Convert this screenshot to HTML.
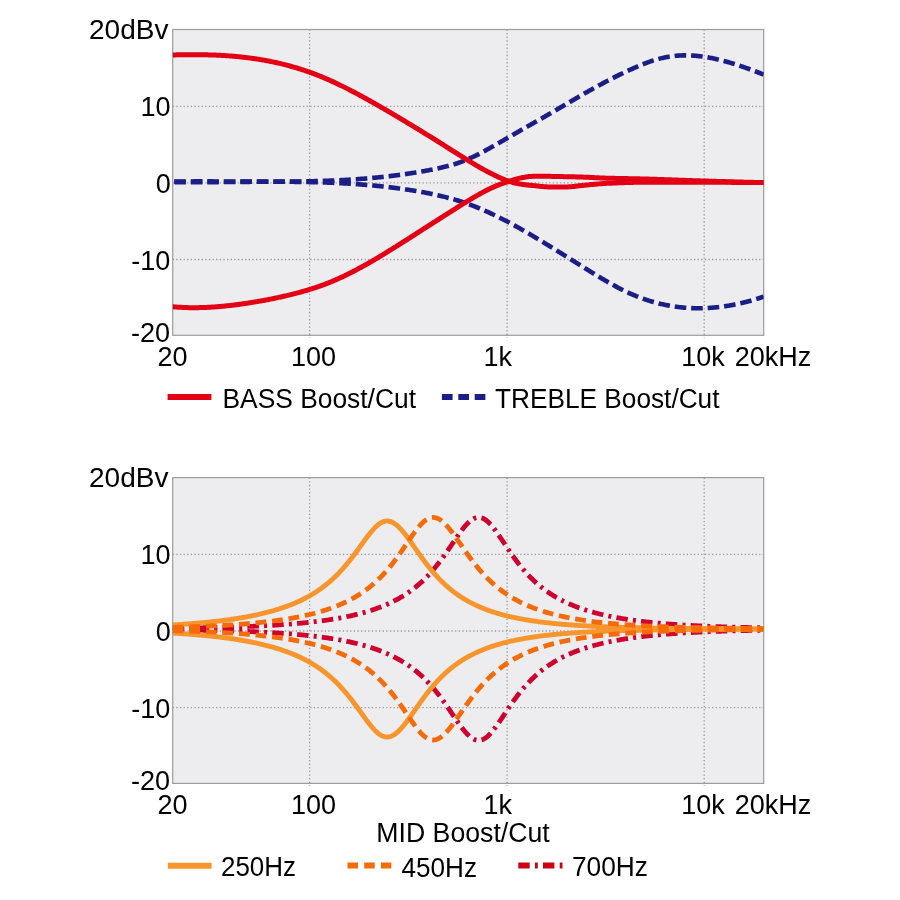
<!DOCTYPE html><html><head><meta charset="utf-8"><style>html,body{margin:0;padding:0;background:#fff;width:900px;height:900px;overflow:hidden}svg{display:block}text{font-family:"Liberation Sans",sans-serif;fill:#000}</style></head><body>
<svg width="900" height="900" viewBox="0 0 900 900" style="will-change:transform">
<rect width="900" height="900" fill="#fff"/>
<rect x="172.7" y="29.5" width="591.0" height="305.8" fill="#EDEDF0"/>
<line x1="172.7" y1="106.3" x2="763.7" y2="106.3" stroke="#9a9a9a" stroke-width="1.3" stroke-dasharray="1.3 2.32"/>
<line x1="172.7" y1="182.9" x2="763.7" y2="182.9" stroke="#9a9a9a" stroke-width="1.3" stroke-dasharray="1.3 2.32"/>
<line x1="172.7" y1="259.5" x2="763.7" y2="259.5" stroke="#9a9a9a" stroke-width="1.3" stroke-dasharray="1.3 2.32"/>
<line x1="309.6" y1="29.5" x2="309.6" y2="337.8" stroke="#9a9a9a" stroke-width="1.3" stroke-dasharray="1.3 2.32"/>
<line x1="507.1" y1="29.5" x2="507.1" y2="337.8" stroke="#9a9a9a" stroke-width="1.3" stroke-dasharray="1.3 2.32"/>
<line x1="704.2" y1="29.5" x2="704.2" y2="337.8" stroke="#9a9a9a" stroke-width="1.3" stroke-dasharray="1.3 2.32"/>
<rect x="172.7" y="29.5" width="591.0" height="305.8" fill="none" stroke="#9c9c9c" stroke-width="1.2"/>
<clipPath id="c1"><rect x="172.7" y="24.5" width="591.0" height="315.8"/></clipPath>
<g clip-path="url(#c1)" fill="none" stroke-linejoin="round">
<path d="M172.70 181.61L173.70 181.60L174.70 181.58L175.70 181.57L176.70 181.56L177.70 181.55L178.70 181.53L179.70 181.52L180.70 181.51L181.70 181.50L182.70 181.49L183.70 181.48L184.70 181.48L185.70 181.47L186.70 181.46L187.70 181.45L188.70 181.45L189.70 181.44L190.70 181.44L191.70 181.43L192.70 181.43L193.70 181.42L194.70 181.42L195.70 181.42L196.70 181.42L197.70 181.41L198.70 181.41L199.70 181.41L200.70 181.41L201.70 181.41L202.70 181.41L203.70 181.41L204.70 181.41L205.70 181.41L206.70 181.41L207.70 181.41L208.70 181.41L209.70 181.42L210.70 181.42L211.70 181.42L212.70 181.42L213.70 181.43L214.70 181.43L215.70 181.43L216.70 181.44L217.70 181.44L218.70 181.45L219.70 181.45L220.70 181.45L221.70 181.46L222.70 181.46L223.70 181.47L224.70 181.47L225.70 181.48L226.70 181.48L227.70 181.49L228.70 181.50L229.70 181.50L230.70 181.51L231.70 181.51L232.70 181.52L233.70 181.52L234.70 181.53L235.70 181.54L236.70 181.54L237.70 181.55L238.70 181.55L239.70 181.56L240.70 181.57L241.70 181.57L242.70 181.58L243.70 181.58L244.70 181.59L245.70 181.59L246.70 181.60L247.70 181.60L248.70 181.61L249.70 181.61L250.70 181.62L251.70 181.62L252.70 181.63L253.70 181.63L254.70 181.64L255.70 181.64L256.70 181.64L257.70 181.65L258.70 181.65L259.70 181.65L260.70 181.66L261.70 181.66L262.70 181.66L263.70 181.66L264.70 181.67L265.70 181.67L266.70 181.67L267.70 181.67L268.70 181.67L269.70 181.67L270.70 181.67L271.70 181.67L272.70 181.67L273.70 181.67L274.70 181.67L275.70 181.66L276.70 181.66L277.70 181.66L278.70 181.65L279.70 181.65L280.70 181.65L281.70 181.64L282.70 181.64L283.70 181.63L284.70 181.62L285.70 181.62L286.70 181.61L287.70 181.60L288.70 181.59L289.70 181.59L290.70 181.58L291.70 181.57L292.70 181.56L293.70 181.54L294.70 181.53L295.70 181.52L296.70 181.51L297.70 181.49L298.70 181.48L299.70 181.47L300.70 181.45L301.70 181.43L302.70 181.42L303.70 181.40L304.70 181.38L305.70 181.36L306.70 181.34L307.70 181.32L308.70 181.30L309.70 181.28L310.70 181.26L311.70 181.23L312.70 181.21L313.70 181.18L314.70 181.16L315.70 181.13L316.70 181.10L317.70 181.07L318.70 181.04L319.70 181.01L320.70 180.98L321.70 180.95L322.70 180.92L323.70 180.88L324.70 180.85L325.70 180.81L326.70 180.78L327.70 180.74L328.70 180.70L329.70 180.66L330.70 180.62L331.70 180.58L332.70 180.54L333.70 180.50L334.70 180.45L335.70 180.41L336.70 180.36L337.70 180.31L338.70 180.26L339.70 180.21L340.70 180.16L341.70 180.11L342.70 180.06L343.70 180.00L344.70 179.95L345.70 179.89L346.70 179.83L347.70 179.78L348.70 179.72L349.70 179.66L350.70 179.59L351.70 179.53L352.70 179.47L353.70 179.40L354.70 179.33L355.70 179.26L356.70 179.20L357.70 179.12L358.70 179.05L359.70 178.98L360.70 178.90L361.70 178.83L362.70 178.75L363.70 178.67L364.70 178.59L365.70 178.51L366.70 178.43L367.70 178.35L368.70 178.26L369.70 178.17L370.70 178.09L371.70 178.00L372.70 177.91L373.70 177.81L374.70 177.72L375.70 177.62L376.70 177.53L377.70 177.43L378.70 177.33L379.70 177.23L380.70 177.13L381.70 177.02L382.70 176.92L383.70 176.81L384.70 176.70L385.70 176.59L386.70 176.48L387.70 176.36L388.70 176.25L389.70 176.13L390.70 176.01L391.70 175.90L392.70 175.77L393.70 175.65L394.70 175.53L395.70 175.40L396.70 175.27L397.70 175.14L398.70 175.01L399.70 174.88L400.70 174.74L401.70 174.61L402.70 174.47L403.70 174.33L404.70 174.19L405.70 174.04L406.70 173.90L407.70 173.75L408.70 173.60L409.70 173.45L410.70 173.30L411.70 173.14L412.70 172.99L413.70 172.83L414.70 172.67L415.70 172.51L416.70 172.34L417.70 172.18L418.70 172.01L419.70 171.84L420.70 171.67L421.70 171.50L422.70 171.32L423.70 171.14L424.70 170.97L425.70 170.78L426.70 170.60L427.70 170.42L428.70 170.23L429.70 170.04L430.70 169.85L431.70 169.66L432.70 169.46L433.70 169.26L434.70 169.06L435.70 168.86L436.70 168.65L437.70 168.44L438.70 168.22L439.70 168.00L440.70 167.78L441.70 167.55L442.70 167.32L443.70 167.08L444.70 166.84L445.70 166.59L446.70 166.34L447.70 166.08L448.70 165.81L449.70 165.54L450.70 165.26L451.70 164.98L452.70 164.68L453.70 164.38L454.70 164.08L455.70 163.76L456.70 163.44L457.70 163.11L458.70 162.77L459.70 162.42L460.70 162.06L461.70 161.70L462.70 161.32L463.70 160.94L464.70 160.54L465.70 160.14L466.70 159.72L467.70 159.30L468.70 158.86L469.70 158.42L470.70 157.97L471.70 157.51L472.70 157.04L473.70 156.57L474.70 156.08L475.70 155.59L476.70 155.10L477.70 154.59L478.70 154.08L479.70 153.57L480.70 153.05L481.70 152.52L482.70 151.99L483.70 151.45L484.70 150.91L485.70 150.37L486.70 149.82L487.70 149.27L488.70 148.71L489.70 148.15L490.70 147.59L491.70 147.03L492.70 146.47L493.70 145.90L494.70 145.33L495.70 144.76L496.70 144.19L497.70 143.62L498.70 143.05L499.70 142.47L500.70 141.90L501.70 141.32L502.70 140.75L503.70 140.17L504.70 139.59L505.70 139.02L506.70 138.44L507.70 137.86L508.70 137.28L509.70 136.70L510.70 136.12L511.70 135.54L512.70 134.96L513.70 134.39L514.70 133.81L515.70 133.23L516.70 132.65L517.70 132.08L518.70 131.50L519.70 130.93L520.70 130.35L521.70 129.78L522.70 129.21L523.70 128.64L524.70 128.06L525.70 127.49L526.70 126.92L527.70 126.36L528.70 125.79L529.70 125.22L530.70 124.65L531.70 124.08L532.70 123.51L533.70 122.94L534.70 122.37L535.70 121.80L536.70 121.24L537.70 120.67L538.70 120.10L539.70 119.52L540.70 118.95L541.70 118.38L542.70 117.81L543.70 117.23L544.70 116.66L545.70 116.08L546.70 115.51L547.70 114.93L548.70 114.35L549.70 113.77L550.70 113.19L551.70 112.61L552.70 112.03L553.70 111.44L554.70 110.86L555.70 110.28L556.70 109.69L557.70 109.11L558.70 108.52L559.70 107.93L560.70 107.35L561.70 106.76L562.70 106.17L563.70 105.59L564.70 105.00L565.70 104.41L566.70 103.83L567.70 103.24L568.70 102.65L569.70 102.07L570.70 101.48L571.70 100.90L572.70 100.31L573.70 99.73L574.70 99.15L575.70 98.57L576.70 97.98L577.70 97.40L578.70 96.82L579.70 96.25L580.70 95.67L581.70 95.09L582.70 94.52L583.70 93.94L584.70 93.37L585.70 92.80L586.70 92.23L587.70 91.66L588.70 91.10L589.70 90.53L590.70 89.97L591.70 89.41L592.70 88.85L593.70 88.29L594.70 87.74L595.70 87.18L596.70 86.63L597.70 86.09L598.70 85.54L599.70 85.00L600.70 84.45L601.70 83.92L602.70 83.38L603.70 82.85L604.70 82.31L605.70 81.79L606.70 81.26L607.70 80.74L608.70 80.22L609.70 79.70L610.70 79.18L611.70 78.67L612.70 78.16L613.70 77.65L614.70 77.15L615.70 76.65L616.70 76.15L617.70 75.66L618.70 75.16L619.70 74.67L620.70 74.19L621.70 73.70L622.70 73.22L623.70 72.75L624.70 72.27L625.70 71.80L626.70 71.33L627.70 70.87L628.70 70.41L629.70 69.95L630.70 69.49L631.70 69.04L632.70 68.59L633.70 68.15L634.70 67.71L635.70 67.27L636.70 66.84L637.70 66.41L638.70 65.99L639.70 65.57L640.70 65.15L641.70 64.75L642.70 64.34L643.70 63.95L644.70 63.56L645.70 63.17L646.70 62.80L647.70 62.43L648.70 62.07L649.70 61.71L650.70 61.36L651.70 61.02L652.70 60.69L653.70 60.37L654.70 60.06L655.70 59.75L656.70 59.46L657.70 59.17L658.70 58.90L659.70 58.63L660.70 58.37L661.70 58.13L662.70 57.89L663.70 57.67L664.70 57.46L665.70 57.26L666.70 57.07L667.70 56.89L668.70 56.72L669.70 56.56L670.70 56.41L671.70 56.27L672.70 56.14L673.70 56.03L674.70 55.92L675.70 55.82L676.70 55.73L677.70 55.66L678.70 55.59L679.70 55.53L680.70 55.48L681.70 55.44L682.70 55.41L683.70 55.39L684.70 55.37L685.70 55.37L686.70 55.38L687.70 55.39L688.70 55.41L689.70 55.44L690.70 55.48L691.70 55.53L692.70 55.59L693.70 55.65L694.70 55.72L695.70 55.81L696.70 55.89L697.70 55.99L698.70 56.09L699.70 56.21L700.70 56.32L701.70 56.45L702.70 56.58L703.70 56.72L704.70 56.87L705.70 57.03L706.70 57.19L707.70 57.36L708.70 57.53L709.70 57.71L710.70 57.90L711.70 58.10L712.70 58.30L713.70 58.50L714.70 58.72L715.70 58.94L716.70 59.16L717.70 59.39L718.70 59.63L719.70 59.87L720.70 60.12L721.70 60.37L722.70 60.63L723.70 60.89L724.70 61.16L725.70 61.43L726.70 61.71L727.70 62.00L728.70 62.28L729.70 62.58L730.70 62.87L731.70 63.18L732.70 63.48L733.70 63.79L734.70 64.11L735.70 64.42L736.70 64.75L737.70 65.07L738.70 65.40L739.70 65.73L740.70 66.07L741.70 66.41L742.70 66.75L743.70 67.10L744.70 67.45L745.70 67.80L746.70 68.16L747.70 68.52L748.70 68.88L749.70 69.24L750.70 69.61L751.70 69.98L752.70 70.35L753.70 70.72L754.70 71.10L755.70 71.48L756.70 71.86L757.70 72.24L758.70 72.62L759.70 73.01L760.70 73.39L761.70 73.78L762.70 74.17L763.70 74.56" stroke="#1C1E87" stroke-width="4.6" stroke-dasharray="11.6 4.9" stroke-dashoffset="14.9"/>
<path d="M172.70 182.05L173.70 182.06L174.70 182.07L175.70 182.08L176.70 182.09L177.70 182.10L178.70 182.11L179.70 182.12L180.70 182.12L181.70 182.13L182.70 182.14L183.70 182.14L184.70 182.15L185.70 182.15L186.70 182.16L187.70 182.16L188.70 182.16L189.70 182.17L190.70 182.17L191.70 182.17L192.70 182.17L193.70 182.17L194.70 182.17L195.70 182.17L196.70 182.17L197.70 182.17L198.70 182.17L199.70 182.17L200.70 182.16L201.70 182.16L202.70 182.16L203.70 182.15L204.70 182.15L205.70 182.15L206.70 182.14L207.70 182.14L208.70 182.13L209.70 182.13L210.70 182.12L211.70 182.12L212.70 182.11L213.70 182.11L214.70 182.10L215.70 182.09L216.70 182.09L217.70 182.08L218.70 182.07L219.70 182.07L220.70 182.06L221.70 182.05L222.70 182.04L223.70 182.04L224.70 182.03L225.70 182.02L226.70 182.01L227.70 182.01L228.70 182.00L229.70 181.99L230.70 181.98L231.70 181.97L232.70 181.96L233.70 181.96L234.70 181.95L235.70 181.94L236.70 181.93L237.70 181.92L238.70 181.91L239.70 181.91L240.70 181.90L241.70 181.89L242.70 181.88L243.70 181.87L244.70 181.87L245.70 181.86L246.70 181.85L247.70 181.84L248.70 181.84L249.70 181.83L250.70 181.82L251.70 181.81L252.70 181.81L253.70 181.80L254.70 181.80L255.70 181.79L256.70 181.78L257.70 181.78L258.70 181.77L259.70 181.77L260.70 181.76L261.70 181.76L262.70 181.75L263.70 181.75L264.70 181.75L265.70 181.74L266.70 181.74L267.70 181.74L268.70 181.73L269.70 181.73L270.70 181.73L271.70 181.73L272.70 181.73L273.70 181.73L274.70 181.73L275.70 181.73L276.70 181.73L277.70 181.73L278.70 181.73L279.70 181.74L280.70 181.74L281.70 181.74L282.70 181.75L283.70 181.75L284.70 181.76L285.70 181.76L286.70 181.77L287.70 181.77L288.70 181.78L289.70 181.79L290.70 181.80L291.70 181.80L292.70 181.81L293.70 181.82L294.70 181.83L295.70 181.85L296.70 181.86L297.70 181.87L298.70 181.88L299.70 181.90L300.70 181.91L301.70 181.93L302.70 181.94L303.70 181.96L304.70 181.98L305.70 182.00L306.70 182.01L307.70 182.03L308.70 182.05L309.70 182.08L310.70 182.10L311.70 182.12L312.70 182.14L313.70 182.17L314.70 182.19L315.70 182.22L316.70 182.25L317.70 182.28L318.70 182.30L319.70 182.33L320.70 182.37L321.70 182.40L322.70 182.43L323.70 182.46L324.70 182.50L325.70 182.53L326.70 182.57L327.70 182.61L328.70 182.64L329.70 182.68L330.70 182.72L331.70 182.76L332.70 182.81L333.70 182.85L334.70 182.90L335.70 182.94L336.70 182.99L337.70 183.03L338.70 183.08L339.70 183.13L340.70 183.18L341.70 183.24L342.70 183.29L343.70 183.34L344.70 183.40L345.70 183.46L346.70 183.51L347.70 183.57L348.70 183.63L349.70 183.69L350.70 183.76L351.70 183.82L352.70 183.89L353.70 183.95L354.70 184.02L355.70 184.09L356.70 184.16L357.70 184.23L358.70 184.30L359.70 184.38L360.70 184.45L361.70 184.53L362.70 184.61L363.70 184.69L364.70 184.77L365.70 184.85L366.70 184.94L367.70 185.02L368.70 185.11L369.70 185.19L370.70 185.28L371.70 185.37L372.70 185.47L373.70 185.56L374.70 185.66L375.70 185.75L376.70 185.85L377.70 185.95L378.70 186.05L379.70 186.15L380.70 186.26L381.70 186.36L382.70 186.47L383.70 186.58L384.70 186.69L385.70 186.80L386.70 186.92L387.70 187.03L388.70 187.15L389.70 187.27L390.70 187.39L391.70 187.51L392.70 187.63L393.70 187.76L394.70 187.89L395.70 188.01L396.70 188.14L397.70 188.28L398.70 188.41L399.70 188.55L400.70 188.68L401.70 188.82L402.70 188.96L403.70 189.11L404.70 189.25L405.70 189.40L406.70 189.54L407.70 189.69L408.70 189.85L409.70 190.00L410.70 190.15L411.70 190.31L412.70 190.47L413.70 190.63L414.70 190.79L415.70 190.96L416.70 191.13L417.70 191.30L418.70 191.47L419.70 191.64L420.70 191.82L421.70 191.99L422.70 192.17L423.70 192.36L424.70 192.54L425.70 192.73L426.70 192.92L427.70 193.12L428.70 193.31L429.70 193.51L430.70 193.71L431.70 193.92L432.70 194.13L433.70 194.34L434.70 194.55L435.70 194.77L436.70 194.99L437.70 195.22L438.70 195.44L439.70 195.68L440.70 195.91L441.70 196.15L442.70 196.39L443.70 196.64L444.70 196.89L445.70 197.14L446.70 197.40L447.70 197.66L448.70 197.92L449.70 198.19L450.70 198.47L451.70 198.75L452.70 199.03L453.70 199.32L454.70 199.61L455.70 199.90L456.70 200.20L457.70 200.51L458.70 200.82L459.70 201.13L460.70 201.45L461.70 201.78L462.70 202.10L463.70 202.44L464.70 202.78L465.70 203.12L466.70 203.47L467.70 203.83L468.70 204.19L469.70 204.55L470.70 204.92L471.70 205.30L472.70 205.68L473.70 206.06L474.70 206.45L475.70 206.85L476.70 207.25L477.70 207.66L478.70 208.07L479.70 208.48L480.70 208.90L481.70 209.33L482.70 209.75L483.70 210.19L484.70 210.63L485.70 211.07L486.70 211.52L487.70 211.97L488.70 212.42L489.70 212.88L490.70 213.34L491.70 213.81L492.70 214.28L493.70 214.76L494.70 215.24L495.70 215.72L496.70 216.21L497.70 216.70L498.70 217.20L499.70 217.70L500.70 218.20L501.70 218.71L502.70 219.22L503.70 219.73L504.70 220.24L505.70 220.76L506.70 221.29L507.70 221.81L508.70 222.34L509.70 222.88L510.70 223.41L511.70 223.95L512.70 224.49L513.70 225.04L514.70 225.59L515.70 226.14L516.70 226.69L517.70 227.25L518.70 227.80L519.70 228.37L520.70 228.93L521.70 229.50L522.70 230.07L523.70 230.64L524.70 231.21L525.70 231.79L526.70 232.37L527.70 232.95L528.70 233.53L529.70 234.11L530.70 234.70L531.70 235.29L532.70 235.88L533.70 236.47L534.70 237.07L535.70 237.66L536.70 238.26L537.70 238.86L538.70 239.46L539.70 240.07L540.70 240.67L541.70 241.28L542.70 241.88L543.70 242.49L544.70 243.10L545.70 243.71L546.70 244.33L547.70 244.94L548.70 245.56L549.70 246.17L550.70 246.79L551.70 247.41L552.70 248.03L553.70 248.65L554.70 249.27L555.70 249.89L556.70 250.51L557.70 251.13L558.70 251.76L559.70 252.38L560.70 253.01L561.70 253.63L562.70 254.26L563.70 254.88L564.70 255.51L565.70 256.14L566.70 256.76L567.70 257.39L568.70 258.02L569.70 258.64L570.70 259.27L571.70 259.90L572.70 260.52L573.70 261.15L574.70 261.78L575.70 262.40L576.70 263.03L577.70 263.66L578.70 264.28L579.70 264.91L580.70 265.53L581.70 266.15L582.70 266.78L583.70 267.40L584.70 268.02L585.70 268.64L586.70 269.26L587.70 269.88L588.70 270.50L589.70 271.12L590.70 271.73L591.70 272.35L592.70 272.96L593.70 273.57L594.70 274.18L595.70 274.79L596.70 275.40L597.70 276.01L598.70 276.61L599.70 277.21L600.70 277.81L601.70 278.40L602.70 279.00L603.70 279.59L604.70 280.17L605.70 280.76L606.70 281.33L607.70 281.91L608.70 282.48L609.70 283.05L610.70 283.61L611.70 284.17L612.70 284.73L613.70 285.28L614.70 285.83L615.70 286.37L616.70 286.90L617.70 287.43L618.70 287.96L619.70 288.48L620.70 288.99L621.70 289.50L622.70 290.00L623.70 290.50L624.70 290.98L625.70 291.47L626.70 291.94L627.70 292.41L628.70 292.87L629.70 293.33L630.70 293.77L631.70 294.21L632.70 294.65L633.70 295.07L634.70 295.49L635.70 295.90L636.70 296.30L637.70 296.70L638.70 297.09L639.70 297.47L640.70 297.84L641.70 298.21L642.70 298.57L643.70 298.92L644.70 299.27L645.70 299.61L646.70 299.94L647.70 300.27L648.70 300.59L649.70 300.90L650.70 301.20L651.70 301.50L652.70 301.79L653.70 302.08L654.70 302.36L655.70 302.63L656.70 302.89L657.70 303.15L658.70 303.40L659.70 303.65L660.70 303.89L661.70 304.12L662.70 304.35L663.70 304.56L664.70 304.78L665.70 304.98L666.70 305.18L667.70 305.37L668.70 305.56L669.70 305.74L670.70 305.91L671.70 306.08L672.70 306.24L673.70 306.40L674.70 306.55L675.70 306.69L676.70 306.82L677.70 306.95L678.70 307.08L679.70 307.19L680.70 307.30L681.70 307.41L682.70 307.50L683.70 307.60L684.70 307.68L685.70 307.76L686.70 307.84L687.70 307.90L688.70 307.96L689.70 308.02L690.70 308.07L691.70 308.11L692.70 308.15L693.70 308.18L694.70 308.21L695.70 308.23L696.70 308.24L697.70 308.25L698.70 308.25L699.70 308.24L700.70 308.23L701.70 308.22L702.70 308.20L703.70 308.17L704.70 308.14L705.70 308.10L706.70 308.05L707.70 308.00L708.70 307.95L709.70 307.88L710.70 307.82L711.70 307.74L712.70 307.66L713.70 307.58L714.70 307.49L715.70 307.39L716.70 307.29L717.70 307.19L718.70 307.07L719.70 306.96L720.70 306.83L721.70 306.70L722.70 306.57L723.70 306.43L724.70 306.28L725.70 306.13L726.70 305.98L727.70 305.82L728.70 305.65L729.70 305.48L730.70 305.30L731.70 305.12L732.70 304.93L733.70 304.74L734.70 304.54L735.70 304.34L736.70 304.13L737.70 303.91L738.70 303.69L739.70 303.47L740.70 303.24L741.70 303.01L742.70 302.77L743.70 302.52L744.70 302.27L745.70 302.02L746.70 301.76L747.70 301.49L748.70 301.23L749.70 300.95L750.70 300.67L751.70 300.39L752.70 300.10L753.70 299.80L754.70 299.50L755.70 299.20L756.70 298.89L757.70 298.58L758.70 298.26L759.70 297.94L760.70 297.61L761.70 297.28L762.70 296.94L763.70 296.60" stroke="#1C1E87" stroke-width="4.6" stroke-dasharray="11.6 4.9" stroke-dashoffset="14.9"/>
<path d="M172.70 54.96L173.70 54.94L174.70 54.91L175.70 54.89L176.70 54.86L177.70 54.84L178.70 54.82L179.70 54.80L180.70 54.78L181.70 54.76L182.70 54.75L183.70 54.73L184.70 54.72L185.70 54.71L186.70 54.70L187.70 54.69L188.70 54.68L189.70 54.67L190.70 54.67L191.70 54.67L192.70 54.66L193.70 54.66L194.70 54.67L195.70 54.67L196.70 54.68L197.70 54.68L198.70 54.69L199.70 54.70L200.70 54.71L201.70 54.73L202.70 54.74L203.70 54.76L204.70 54.78L205.70 54.80L206.70 54.82L207.70 54.85L208.70 54.88L209.70 54.90L210.70 54.94L211.70 54.97L212.70 55.00L213.70 55.04L214.70 55.08L215.70 55.12L216.70 55.17L217.70 55.21L218.70 55.26L219.70 55.31L220.70 55.36L221.70 55.42L222.70 55.48L223.70 55.54L224.70 55.60L225.70 55.66L226.70 55.73L227.70 55.80L228.70 55.87L229.70 55.94L230.70 56.02L231.70 56.10L232.70 56.18L233.70 56.27L234.70 56.35L235.70 56.44L236.70 56.54L237.70 56.63L238.70 56.73L239.70 56.83L240.70 56.93L241.70 57.04L242.70 57.15L243.70 57.26L244.70 57.38L245.70 57.49L246.70 57.62L247.70 57.74L248.70 57.87L249.70 58.00L250.70 58.13L251.70 58.26L252.70 58.40L253.70 58.55L254.70 58.69L255.70 58.84L256.70 58.99L257.70 59.14L258.70 59.30L259.70 59.46L260.70 59.63L261.70 59.80L262.70 59.97L263.70 60.14L264.70 60.32L265.70 60.50L266.70 60.69L267.70 60.87L268.70 61.07L269.70 61.26L270.70 61.46L271.70 61.66L272.70 61.87L273.70 62.08L274.70 62.29L275.70 62.51L276.70 62.73L277.70 62.95L278.70 63.18L279.70 63.41L280.70 63.65L281.70 63.89L282.70 64.13L283.70 64.38L284.70 64.63L285.70 64.88L286.70 65.14L287.70 65.40L288.70 65.67L289.70 65.94L290.70 66.22L291.70 66.49L292.70 66.78L293.70 67.07L294.70 67.36L295.70 67.65L296.70 67.95L297.70 68.26L298.70 68.56L299.70 68.88L300.70 69.19L301.70 69.51L302.70 69.84L303.70 70.17L304.70 70.50L305.70 70.84L306.70 71.18L307.70 71.53L308.70 71.88L309.70 72.23L310.70 72.59L311.70 72.95L312.70 73.32L313.70 73.70L314.70 74.07L315.70 74.45L316.70 74.84L317.70 75.23L318.70 75.62L319.70 76.02L320.70 76.42L321.70 76.83L322.70 77.24L323.70 77.66L324.70 78.08L325.70 78.51L326.70 78.94L327.70 79.37L328.70 79.81L329.70 80.25L330.70 80.70L331.70 81.15L332.70 81.61L333.70 82.07L334.70 82.53L335.70 83.00L336.70 83.47L337.70 83.94L338.70 84.42L339.70 84.91L340.70 85.39L341.70 85.88L342.70 86.37L343.70 86.87L344.70 87.37L345.70 87.87L346.70 88.38L347.70 88.88L348.70 89.40L349.70 89.91L350.70 90.43L351.70 90.95L352.70 91.47L353.70 92.00L354.70 92.52L355.70 93.06L356.70 93.59L357.70 94.12L358.70 94.66L359.70 95.20L360.70 95.75L361.70 96.29L362.70 96.84L363.70 97.39L364.70 97.94L365.70 98.49L366.70 99.05L367.70 99.60L368.70 100.16L369.70 100.72L370.70 101.28L371.70 101.85L372.70 102.41L373.70 102.98L374.70 103.54L375.70 104.11L376.70 104.68L377.70 105.25L378.70 105.83L379.70 106.40L380.70 106.97L381.70 107.55L382.70 108.13L383.70 108.70L384.70 109.28L385.70 109.86L386.70 110.45L387.70 111.03L388.70 111.61L389.70 112.20L390.70 112.78L391.70 113.37L392.70 113.96L393.70 114.55L394.70 115.14L395.70 115.73L396.70 116.32L397.70 116.92L398.70 117.51L399.70 118.10L400.70 118.70L401.70 119.30L402.70 119.90L403.70 120.50L404.70 121.10L405.70 121.70L406.70 122.30L407.70 122.90L408.70 123.51L409.70 124.11L410.70 124.72L411.70 125.32L412.70 125.93L413.70 126.54L414.70 127.15L415.70 127.76L416.70 128.37L417.70 128.98L418.70 129.59L419.70 130.20L420.70 130.82L421.70 131.43L422.70 132.05L423.70 132.66L424.70 133.28L425.70 133.90L426.70 134.52L427.70 135.13L428.70 135.75L429.70 136.37L430.70 136.99L431.70 137.62L432.70 138.24L433.70 138.86L434.70 139.48L435.70 140.11L436.70 140.73L437.70 141.36L438.70 141.98L439.70 142.61L440.70 143.24L441.70 143.86L442.70 144.49L443.70 145.12L444.70 145.75L445.70 146.38L446.70 147.01L447.70 147.64L448.70 148.27L449.70 148.90L450.70 149.54L451.70 150.17L452.70 150.80L453.70 151.43L454.70 152.06L455.70 152.70L456.70 153.33L457.70 153.96L458.70 154.59L459.70 155.22L460.70 155.85L461.70 156.47L462.70 157.10L463.70 157.72L464.70 158.34L465.70 158.96L466.70 159.58L467.70 160.19L468.70 160.80L469.70 161.41L470.70 162.02L471.70 162.63L472.70 163.23L473.70 163.82L474.70 164.42L475.70 165.01L476.70 165.59L477.70 166.18L478.70 166.75L479.70 167.33L480.70 167.90L481.70 168.46L482.70 169.02L483.70 169.58L484.70 170.13L485.70 170.67L486.70 171.21L487.70 171.74L488.70 172.27L489.70 172.79L490.70 173.30L491.70 173.81L492.70 174.31L493.70 174.80L494.70 175.29L495.70 175.77L496.70 176.24L497.70 176.70L498.70 177.16L499.70 177.61L500.70 178.05L501.70 178.48L502.70 178.90L503.70 179.32L504.70 179.72L505.70 180.12L506.70 180.51L507.70 180.88L508.70 181.25L508.90 181.30L509.90 181.61L510.90 181.91L511.90 182.20L512.90 182.47L513.90 182.73L514.90 182.98L515.90 183.21L516.90 183.42L517.90 183.62L518.90 183.80L519.90 183.97L520.90 184.12L521.90 184.27L522.90 184.42L523.90 184.55L524.90 184.68L525.90 184.80L526.90 184.92L527.90 185.04L528.90 185.15L529.90 185.25L530.90 185.35L531.90 185.44L532.90 185.54L533.90 185.63L534.90 185.73L535.90 185.83L536.90 185.94L537.90 186.05L538.90 186.17L539.90 186.28L540.90 186.39L541.90 186.49L542.90 186.59L543.90 186.67L544.90 186.73L545.90 186.80L546.90 186.86L547.90 186.92L548.90 186.97L549.90 187.02L550.90 187.06L551.90 187.09L552.90 187.10L553.90 187.10L554.90 187.10L555.90 187.10L556.90 187.10L557.90 187.10L558.90 187.10L559.90 187.10L560.90 187.10L561.90 187.10L562.90 187.10L563.90 187.08L564.90 187.05L565.90 187.01L566.90 186.95L567.90 186.90L568.90 186.84L569.90 186.77L570.90 186.71L571.90 186.63L572.90 186.54L573.90 186.43L574.90 186.31L575.90 186.19L576.90 186.06L577.90 185.94L578.90 185.82L579.90 185.71L580.90 185.61L581.90 185.51L582.90 185.41L583.90 185.31L584.90 185.21L585.90 185.11L586.90 185.00L587.90 184.90L588.90 184.80L589.90 184.70L590.90 184.61L591.90 184.51L592.90 184.41L593.90 184.32L594.90 184.23L595.90 184.14L596.90 184.05L597.90 183.97L598.90 183.88L599.90 183.80L600.90 183.73L601.90 183.66L602.90 183.59L603.90 183.52L604.90 183.46L605.90 183.40L606.90 183.35L607.90 183.30L608.90 183.26L609.90 183.22L610.90 183.17L611.90 183.13L612.90 183.08L613.90 183.04L614.90 183.00L615.90 182.95L616.90 182.91L617.90 182.87L618.90 182.83L619.90 182.79L620.90 182.75L621.90 182.72L622.90 182.68L623.90 182.64L624.90 182.61L625.90 182.58L626.90 182.55L627.90 182.52L628.90 182.49L629.90 182.46L630.90 182.44L631.90 182.41L632.90 182.39L633.90 182.37L634.90 182.36L635.90 182.34L636.90 182.33L637.90 182.32L638.90 182.31L639.90 182.30L640.90 182.30L641.90 182.30L642.90 182.30L643.90 182.30L644.90 182.30L645.90 182.30L646.90 182.30L647.90 182.30L648.90 182.30L649.90 182.30L650.90 182.30L651.90 182.30L652.90 182.30L653.90 182.30L654.90 182.30L655.90 182.30L656.90 182.30L657.90 182.30L658.90 182.30L659.90 182.30L660.90 182.30L661.90 182.30L662.90 182.30L663.90 182.30L664.90 182.30L665.90 182.30L666.90 182.30L667.90 182.30L668.90 182.30L669.90 182.30L670.90 182.30L671.90 182.30L672.90 182.30L673.90 182.30L674.90 182.30L675.90 182.30L676.90 182.30L677.90 182.30L678.90 182.30L679.90 182.30L680.90 182.30L681.90 182.30L682.90 182.30L683.90 182.30L684.90 182.30L685.90 182.30L686.90 182.30L687.90 182.30L688.90 182.30L689.90 182.30L690.90 182.30L691.90 182.30L692.90 182.30L693.90 182.30L694.90 182.30L695.90 182.30L696.90 182.30L697.90 182.30L698.90 182.30L699.90 182.30L700.90 182.30L701.90 182.30L702.90 182.30L703.90 182.30L704.90 182.30L705.90 182.30L706.90 182.30L707.90 182.30L708.90 182.30L709.90 182.30L710.90 182.31L711.90 182.31L712.90 182.31L713.90 182.31L714.90 182.31L715.90 182.32L716.90 182.32L717.90 182.32L718.90 182.32L719.90 182.33L720.90 182.33L721.90 182.33L722.90 182.34L723.90 182.34L724.90 182.34L725.90 182.35L726.90 182.35L727.90 182.36L728.90 182.36L729.90 182.37L730.90 182.37L731.90 182.38L732.90 182.38L733.90 182.39L734.90 182.39L735.90 182.40L736.90 182.40L737.90 182.41L738.90 182.42L739.90 182.42L740.90 182.43L741.90 182.44L742.90 182.44L743.90 182.45L744.90 182.46L745.90 182.46L746.90 182.47L747.90 182.48L748.90 182.48L749.90 182.49L750.90 182.50L751.90 182.51L752.90 182.51L753.90 182.52L754.90 182.53L755.90 182.54L756.90 182.54L757.90 182.55L758.90 182.56L759.90 182.57L760.90 182.58L761.90 182.58L762.90 182.59L763.70 182.60" stroke="#E40014" stroke-width="5.0"/>
<path d="M172.70 306.73L173.70 306.82L174.70 306.91L175.70 306.99L176.70 307.06L177.70 307.14L178.70 307.20L179.70 307.26L180.70 307.32L181.70 307.37L182.70 307.42L183.70 307.47L184.70 307.51L185.70 307.54L186.70 307.58L187.70 307.60L188.70 307.63L189.70 307.65L190.70 307.66L191.70 307.67L192.70 307.68L193.70 307.68L194.70 307.68L195.70 307.68L196.70 307.67L197.70 307.66L198.70 307.64L199.70 307.62L200.70 307.60L201.70 307.57L202.70 307.54L203.70 307.51L204.70 307.47L205.70 307.43L206.70 307.39L207.70 307.34L208.70 307.29L209.70 307.23L210.70 307.18L211.70 307.12L212.70 307.05L213.70 306.98L214.70 306.91L215.70 306.84L216.70 306.76L217.70 306.69L218.70 306.60L219.70 306.52L220.70 306.43L221.70 306.34L222.70 306.25L223.70 306.15L224.70 306.05L225.70 305.95L226.70 305.84L227.70 305.74L228.70 305.63L229.70 305.52L230.70 305.40L231.70 305.28L232.70 305.16L233.70 305.04L234.70 304.92L235.70 304.79L236.70 304.66L237.70 304.53L238.70 304.40L239.70 304.26L240.70 304.13L241.70 303.99L242.70 303.85L243.70 303.70L244.70 303.56L245.70 303.41L246.70 303.26L247.70 303.11L248.70 302.96L249.70 302.80L250.70 302.64L251.70 302.49L252.70 302.33L253.70 302.16L254.70 302.00L255.70 301.83L256.70 301.66L257.70 301.49L258.70 301.32L259.70 301.14L260.70 300.97L261.70 300.79L262.70 300.61L263.70 300.42L264.70 300.24L265.70 300.05L266.70 299.86L267.70 299.67L268.70 299.47L269.70 299.28L270.70 299.08L271.70 298.88L272.70 298.68L273.70 298.47L274.70 298.26L275.70 298.05L276.70 297.84L277.70 297.63L278.70 297.41L279.70 297.19L280.70 296.97L281.70 296.75L282.70 296.52L283.70 296.29L284.70 296.06L285.70 295.83L286.70 295.59L287.70 295.36L288.70 295.12L289.70 294.87L290.70 294.63L291.70 294.38L292.70 294.13L293.70 293.88L294.70 293.62L295.70 293.37L296.70 293.11L297.70 292.84L298.70 292.58L299.70 292.31L300.70 292.04L301.70 291.76L302.70 291.49L303.70 291.20L304.70 290.92L305.70 290.63L306.70 290.34L307.70 290.04L308.70 289.74L309.70 289.44L310.70 289.13L311.70 288.82L312.70 288.51L313.70 288.18L314.70 287.86L315.70 287.53L316.70 287.20L317.70 286.86L318.70 286.51L319.70 286.16L320.70 285.81L321.70 285.45L322.70 285.09L323.70 284.72L324.70 284.34L325.70 283.96L326.70 283.57L327.70 283.18L328.70 282.78L329.70 282.38L330.70 281.97L331.70 281.55L332.70 281.14L333.70 280.71L334.70 280.28L335.70 279.85L336.70 279.41L337.70 278.96L338.70 278.51L339.70 278.06L340.70 277.60L341.70 277.13L342.70 276.66L343.70 276.19L344.70 275.71L345.70 275.23L346.70 274.74L347.70 274.25L348.70 273.75L349.70 273.25L350.70 272.75L351.70 272.24L352.70 271.73L353.70 271.21L354.70 270.69L355.70 270.17L356.70 269.64L357.70 269.11L358.70 268.57L359.70 268.04L360.70 267.49L361.70 266.95L362.70 266.40L363.70 265.85L364.70 265.29L365.70 264.73L366.70 264.17L367.70 263.60L368.70 263.03L369.70 262.46L370.70 261.89L371.70 261.31L372.70 260.73L373.70 260.15L374.70 259.56L375.70 258.97L376.70 258.38L377.70 257.79L378.70 257.19L379.70 256.59L380.70 255.99L381.70 255.39L382.70 254.78L383.70 254.18L384.70 253.57L385.70 252.96L386.70 252.34L387.70 251.73L388.70 251.11L389.70 250.49L390.70 249.87L391.70 249.25L392.70 248.63L393.70 248.00L394.70 247.37L395.70 246.75L396.70 246.12L397.70 245.49L398.70 244.85L399.70 244.22L400.70 243.59L401.70 242.95L402.70 242.32L403.70 241.68L404.70 241.04L405.70 240.40L406.70 239.77L407.70 239.13L408.70 238.49L409.70 237.84L410.70 237.20L411.70 236.56L412.70 235.92L413.70 235.28L414.70 234.64L415.70 233.99L416.70 233.35L417.70 232.71L418.70 232.07L419.70 231.42L420.70 230.78L421.70 230.14L422.70 229.50L423.70 228.86L424.70 228.22L425.70 227.58L426.70 226.94L427.70 226.30L428.70 225.66L429.70 225.02L430.70 224.39L431.70 223.75L432.70 223.11L433.70 222.47L434.70 221.84L435.70 221.20L436.70 220.57L437.70 219.93L438.70 219.29L439.70 218.66L440.70 218.02L441.70 217.39L442.70 216.75L443.70 216.12L444.70 215.48L445.70 214.85L446.70 214.21L447.70 213.58L448.70 212.94L449.70 212.31L450.70 211.67L451.70 211.04L452.70 210.40L453.70 209.77L454.70 209.13L455.70 208.50L456.70 207.87L457.70 207.23L458.70 206.60L459.70 205.98L460.70 205.35L461.70 204.72L462.70 204.10L463.70 203.48L464.70 202.86L465.70 202.25L466.70 201.63L467.70 201.03L468.70 200.42L469.70 199.82L470.70 199.22L471.70 198.62L472.70 198.03L473.70 197.45L474.70 196.86L475.70 196.29L476.70 195.71L477.70 195.15L478.70 194.58L479.70 194.03L480.70 193.48L481.70 192.93L482.70 192.39L483.70 191.86L484.70 191.33L485.70 190.82L486.70 190.30L487.70 189.80L488.70 189.31L489.70 188.82L490.70 188.34L491.70 187.87L492.70 187.41L493.70 186.96L494.70 186.52L495.70 186.09L496.70 185.66L497.70 185.25L498.70 184.85L499.70 184.46L500.70 184.09L501.70 183.72L502.70 183.37L503.70 183.02L504.70 182.69L505.70 182.38L506.70 182.07L507.70 181.78L508.70 181.51L508.90 181.30L509.90 180.97L510.90 180.64L511.90 180.33L512.90 180.03L513.90 179.74L514.90 179.46L515.90 179.19L516.90 178.93L517.90 178.67L518.90 178.42L519.90 178.18L520.90 177.94L521.90 177.72L522.90 177.52L523.90 177.34L524.90 177.17L525.90 177.01L526.90 176.87L527.90 176.72L528.90 176.58L529.90 176.46L530.90 176.40L531.90 176.39L532.90 176.37L533.90 176.36L534.90 176.35L535.90 176.34L536.90 176.33L537.90 176.32L538.90 176.31L539.90 176.31L540.90 176.31L541.90 176.30L542.90 176.30L543.90 176.30L544.90 176.30L545.90 176.30L546.90 176.31L547.90 176.32L548.90 176.33L549.90 176.35L550.90 176.36L551.90 176.38L552.90 176.40L553.90 176.42L554.90 176.44L555.90 176.46L556.90 176.49L557.90 176.51L558.90 176.53L559.90 176.55L560.90 176.57L561.90 176.59L562.90 176.61L563.90 176.63L564.90 176.65L565.90 176.67L566.90 176.69L567.90 176.71L568.90 176.73L569.90 176.75L570.90 176.77L571.90 176.80L572.90 176.82L573.90 176.84L574.90 176.87L575.90 176.89L576.90 176.92L577.90 176.94L578.90 176.97L579.90 177.00L580.90 177.03L581.90 177.06L582.90 177.10L583.90 177.13L584.90 177.17L585.90 177.22L586.90 177.26L587.90 177.30L588.90 177.35L589.90 177.40L590.90 177.45L591.90 177.50L592.90 177.55L593.90 177.60L594.90 177.65L595.90 177.70L596.90 177.75L597.90 177.79L598.90 177.84L599.90 177.89L600.90 177.93L601.90 177.98L602.90 178.02L603.90 178.06L604.90 178.10L605.90 178.13L606.90 178.17L607.90 178.20L608.90 178.22L609.90 178.25L610.90 178.28L611.90 178.30L612.90 178.33L613.90 178.35L614.90 178.37L615.90 178.39L616.90 178.41L617.90 178.43L618.90 178.45L619.90 178.47L620.90 178.49L621.90 178.51L622.90 178.53L623.90 178.54L624.90 178.56L625.90 178.58L626.90 178.60L627.90 178.62L628.90 178.63L629.90 178.65L630.90 178.67L631.90 178.69L632.90 178.71L633.90 178.73L634.90 178.75L635.90 178.77L636.90 178.79L637.90 178.81L638.90 178.83L639.90 178.86L640.90 178.88L641.90 178.91L642.90 178.93L643.90 178.96L644.90 178.99L645.90 179.01L646.90 179.04L647.90 179.07L648.90 179.10L649.90 179.13L650.90 179.17L651.90 179.20L652.90 179.23L653.90 179.26L654.90 179.30L655.90 179.33L656.90 179.37L657.90 179.40L658.90 179.43L659.90 179.47L660.90 179.50L661.90 179.54L662.90 179.58L663.90 179.61L664.90 179.65L665.90 179.68L666.90 179.72L667.90 179.75L668.90 179.79L669.90 179.82L670.90 179.86L671.90 179.89L672.90 179.93L673.90 179.96L674.90 180.00L675.90 180.03L676.90 180.06L677.90 180.10L678.90 180.13L679.90 180.17L680.90 180.20L681.90 180.24L682.90 180.28L683.90 180.31L684.90 180.35L685.90 180.38L686.90 180.42L687.90 180.45L688.90 180.49L689.90 180.53L690.90 180.56L691.90 180.60L692.90 180.63L693.90 180.67L694.90 180.70L695.90 180.74L696.90 180.77L697.90 180.80L698.90 180.84L699.90 180.87L700.90 180.90L701.90 180.93L702.90 180.97L703.90 181.00L704.90 181.03L705.90 181.06L706.90 181.09L707.90 181.12L708.90 181.15L709.90 181.18L710.90 181.21L711.90 181.24L712.90 181.27L713.90 181.30L714.90 181.33L715.90 181.36L716.90 181.39L717.90 181.42L718.90 181.45L719.90 181.47L720.90 181.50L721.90 181.53L722.90 181.56L723.90 181.59L724.90 181.62L725.90 181.65L726.90 181.67L727.90 181.70L728.90 181.73L729.90 181.76L730.90 181.79L731.90 181.81L732.90 181.84L733.90 181.87L734.90 181.90L735.90 181.92L736.90 181.95L737.90 181.98L738.90 182.00L739.90 182.03L740.90 182.05L741.90 182.08L742.90 182.11L743.90 182.13L744.90 182.16L745.90 182.18L746.90 182.21L747.90 182.23L748.90 182.26L749.90 182.28L750.90 182.31L751.90 182.33L752.90 182.35L753.90 182.38L754.90 182.40L755.90 182.42L756.90 182.45L757.90 182.47L758.90 182.49L759.90 182.52L760.90 182.54L761.90 182.56L762.90 182.58L763.70 182.60" stroke="#E40014" stroke-width="5.0"/>
</g>
<rect x="172.7" y="477.6" width="591.0" height="305.80000000000007" fill="#EDEDF0"/>
<line x1="172.7" y1="554.4" x2="763.7" y2="554.4" stroke="#9a9a9a" stroke-width="1.3" stroke-dasharray="1.3 2.32"/>
<line x1="172.7" y1="631.0" x2="763.7" y2="631.0" stroke="#9a9a9a" stroke-width="1.3" stroke-dasharray="1.3 2.32"/>
<line x1="172.7" y1="707.6" x2="763.7" y2="707.6" stroke="#9a9a9a" stroke-width="1.3" stroke-dasharray="1.3 2.32"/>
<line x1="309.6" y1="477.6" x2="309.6" y2="785.9000000000001" stroke="#9a9a9a" stroke-width="1.3" stroke-dasharray="1.3 2.32"/>
<line x1="507.1" y1="477.6" x2="507.1" y2="785.9000000000001" stroke="#9a9a9a" stroke-width="1.3" stroke-dasharray="1.3 2.32"/>
<line x1="704.2" y1="477.6" x2="704.2" y2="785.9000000000001" stroke="#9a9a9a" stroke-width="1.3" stroke-dasharray="1.3 2.32"/>
<rect x="172.7" y="477.6" width="591.0" height="305.80000000000007" fill="none" stroke="#9c9c9c" stroke-width="1.2"/>
<clipPath id="c2"><rect x="172.7" y="472.6" width="591.0" height="315.80000000000007"/></clipPath>
<g clip-path="url(#c2)" fill="none" stroke-linejoin="round">
<path d="M172.70 628.24L173.70 628.23L174.70 628.22L175.70 628.21L176.70 628.19L177.70 628.18L178.70 628.17L179.70 628.16L180.70 628.14L181.70 628.13L182.70 628.11L183.70 628.10L184.70 628.09L185.70 628.07L186.70 628.06L187.70 628.04L188.70 628.03L189.70 628.01L190.70 627.99L191.70 627.98L192.70 627.96L193.70 627.95L194.70 627.93L195.70 627.91L196.70 627.89L197.70 627.88L198.70 627.86L199.70 627.84L200.70 627.82L201.70 627.80L202.70 627.78L203.70 627.76L204.70 627.74L205.70 627.72L206.70 627.70L207.70 627.68L208.70 627.66L209.70 627.64L210.70 627.62L211.70 627.60L212.70 627.57L213.70 627.55L214.70 627.53L215.70 627.50L216.70 627.48L217.70 627.46L218.70 627.43L219.70 627.41L220.70 627.38L221.70 627.36L222.70 627.33L223.70 627.30L224.70 627.28L225.70 627.25L226.70 627.22L227.70 627.19L228.70 627.16L229.70 627.13L230.70 627.10L231.70 627.07L232.70 627.04L233.70 627.01L234.70 626.98L235.70 626.95L236.70 626.91L237.70 626.88L238.70 626.85L239.70 626.81L240.70 626.78L241.70 626.74L242.70 626.70L243.70 626.67L244.70 626.63L245.70 626.59L246.70 626.55L247.70 626.51L248.70 626.47L249.70 626.43L250.70 626.39L251.70 626.35L252.70 626.31L253.70 626.27L254.70 626.22L255.70 626.18L256.70 626.13L257.70 626.09L258.70 626.04L259.70 625.99L260.70 625.94L261.70 625.89L262.70 625.84L263.70 625.79L264.70 625.74L265.70 625.69L266.70 625.64L267.70 625.58L268.70 625.53L269.70 625.47L270.70 625.41L271.70 625.36L272.70 625.30L273.70 625.24L274.70 625.18L275.70 625.12L276.70 625.05L277.70 624.99L278.70 624.92L279.70 624.86L280.70 624.79L281.70 624.72L282.70 624.65L283.70 624.58L284.70 624.51L285.70 624.44L286.70 624.37L287.70 624.29L288.70 624.22L289.70 624.14L290.70 624.06L291.70 623.98L292.70 623.90L293.70 623.82L294.70 623.73L295.70 623.65L296.70 623.56L297.70 623.47L298.70 623.38L299.70 623.29L300.70 623.20L301.70 623.10L302.70 623.01L303.70 622.91L304.70 622.81L305.70 622.71L306.70 622.61L307.70 622.50L308.70 622.40L309.70 622.29L310.70 622.18L311.70 622.07L312.70 621.96L313.70 621.84L314.70 621.72L315.70 621.60L316.70 621.48L317.70 621.36L318.70 621.23L319.70 621.11L320.70 620.98L321.70 620.84L322.70 620.71L323.70 620.57L324.70 620.44L325.70 620.29L326.70 620.15L327.70 620.00L328.70 619.86L329.70 619.71L330.70 619.55L331.70 619.39L332.70 619.24L333.70 619.07L334.70 618.91L335.70 618.74L336.70 618.57L337.70 618.40L338.70 618.22L339.70 618.04L340.70 617.86L341.70 617.67L342.70 617.48L343.70 617.29L344.70 617.09L345.70 616.89L346.70 616.69L347.70 616.48L348.70 616.27L349.70 616.06L350.70 615.84L351.70 615.62L352.70 615.39L353.70 615.16L354.70 614.92L355.70 614.68L356.70 614.44L357.70 614.19L358.70 613.94L359.70 613.68L360.70 613.42L361.70 613.15L362.70 612.88L363.70 612.60L364.70 612.32L365.70 612.03L366.70 611.74L367.70 611.44L368.70 611.13L369.70 610.82L370.70 610.51L371.70 610.18L372.70 609.86L373.70 609.52L374.70 609.18L375.70 608.83L376.70 608.47L377.70 608.11L378.70 607.74L379.70 607.37L380.70 606.98L381.70 606.59L382.70 606.19L383.70 605.78L384.70 605.37L385.70 604.94L386.70 604.51L387.70 604.07L388.70 603.61L389.70 603.15L390.70 602.68L391.70 602.20L392.70 601.71L393.70 601.21L394.70 600.70L395.70 600.18L396.70 599.65L397.70 599.10L398.70 598.55L399.70 597.98L400.70 597.40L401.70 596.81L402.70 596.21L403.70 595.59L404.70 594.96L405.70 594.31L406.70 593.66L407.70 592.98L408.70 592.29L409.70 591.59L410.70 590.87L411.70 590.14L412.70 589.39L413.70 588.62L414.70 587.84L415.70 587.04L416.70 586.22L417.70 585.38L418.70 584.53L419.70 583.65L420.70 582.76L421.70 581.85L422.70 580.91L423.70 579.96L424.70 578.99L425.70 577.99L426.70 576.98L427.70 575.94L428.70 574.88L429.70 573.80L430.70 572.70L431.70 571.57L432.70 570.42L433.70 569.25L434.70 568.06L435.70 566.84L436.70 565.61L437.70 564.35L438.70 563.06L439.70 561.76L440.70 560.44L441.70 559.09L442.70 557.73L443.70 556.34L444.70 554.94L445.70 553.52L446.70 552.09L447.70 550.64L448.70 549.18L449.70 547.71L450.70 546.24L451.70 544.76L452.70 543.27L453.70 541.79L454.70 540.31L455.70 538.83L456.70 537.37L457.70 535.92L458.70 534.49L459.70 533.09L460.70 531.71L461.70 530.36L462.70 529.06L463.70 527.79L464.70 526.58L465.70 525.41L466.70 524.31L467.70 523.27L468.70 522.30L469.70 521.41L470.70 520.60L471.70 519.87L472.70 519.22L473.70 518.67L474.70 518.22L475.70 517.86L476.70 517.61L477.70 517.45L478.70 517.40L479.70 517.45L480.70 517.62L481.70 517.88L482.70 518.26L483.70 518.73L484.70 519.31L485.70 519.98L486.70 520.74L487.70 521.59L488.70 522.52L489.70 523.53L490.70 524.61L491.70 525.75L492.70 526.96L493.70 528.21L494.70 529.52L495.70 530.86L496.70 532.25L497.70 533.66L498.70 535.10L499.70 536.56L500.70 538.04L501.70 539.53L502.70 541.03L503.70 542.53L504.70 544.04L505.70 545.54L506.70 547.03L507.70 548.52L508.70 550.00L509.70 551.47L510.70 552.92L511.70 554.36L512.70 555.77L513.70 557.17L514.70 558.55L515.70 559.91L516.70 561.25L517.70 562.57L518.70 563.86L519.70 565.13L520.70 566.38L521.70 567.61L522.70 568.81L523.70 569.99L524.70 571.14L525.70 572.27L526.70 573.38L527.70 574.47L528.70 575.53L529.70 576.57L530.70 577.59L531.70 578.58L532.70 579.56L533.70 580.51L534.70 581.45L535.70 582.36L536.70 583.26L537.70 584.13L538.70 584.98L539.70 585.82L540.70 586.64L541.70 587.44L542.70 588.22L543.70 588.99L544.70 589.74L545.70 590.47L546.70 591.19L547.70 591.89L548.70 592.57L549.70 593.24L550.70 593.90L551.70 594.54L552.70 595.17L553.70 595.79L554.70 596.39L555.70 596.98L556.70 597.56L557.70 598.12L558.70 598.68L559.70 599.22L560.70 599.75L561.70 600.27L562.70 600.78L563.70 601.28L564.70 601.77L565.70 602.24L566.70 602.71L567.70 603.17L568.70 603.62L569.70 604.06L570.70 604.49L571.70 604.92L572.70 605.33L573.70 605.74L574.70 606.14L575.70 606.53L576.70 606.91L577.70 607.29L578.70 607.66L579.70 608.02L580.70 608.38L581.70 608.73L582.70 609.07L583.70 609.40L584.70 609.73L585.70 610.05L586.70 610.37L587.70 610.68L588.70 610.99L589.70 611.29L590.70 611.58L591.70 611.87L592.70 612.15L593.70 612.43L594.70 612.70L595.70 612.97L596.70 613.23L597.70 613.49L598.70 613.74L599.70 613.99L600.70 614.24L601.70 614.48L602.70 614.71L603.70 614.95L604.70 615.17L605.70 615.40L606.70 615.62L607.70 615.83L608.70 616.05L609.70 616.26L610.70 616.46L611.70 616.66L612.70 616.86L613.70 617.05L614.70 617.25L615.70 617.43L616.70 617.62L617.70 617.80L618.70 617.98L619.70 618.15L620.70 618.33L621.70 618.50L622.70 618.66L623.70 618.83L624.70 618.99L625.70 619.15L626.70 619.30L627.70 619.46L628.70 619.61L629.70 619.75L630.70 619.90L631.70 620.04L632.70 620.19L633.70 620.32L634.70 620.46L635.70 620.59L636.70 620.73L637.70 620.86L638.70 620.98L639.70 621.11L640.70 621.23L641.70 621.35L642.70 621.47L643.70 621.59L644.70 621.71L645.70 621.82L646.70 621.93L647.70 622.04L648.70 622.15L649.70 622.26L650.70 622.36L651.70 622.47L652.70 622.57L653.70 622.67L654.70 622.77L655.70 622.86L656.70 622.96L657.70 623.05L658.70 623.14L659.70 623.23L660.70 623.32L661.70 623.41L662.70 623.50L663.70 623.58L664.70 623.67L665.70 623.75L666.70 623.83L667.70 623.91L668.70 623.99L669.70 624.07L670.70 624.14L671.70 624.22L672.70 624.29L673.70 624.36L674.70 624.44L675.70 624.51L676.70 624.58L677.70 624.64L678.70 624.71L679.70 624.78L680.70 624.84L681.70 624.91L682.70 624.97L683.70 625.03L684.70 625.09L685.70 625.15L686.70 625.21L687.70 625.27L688.70 625.33L689.70 625.38L690.70 625.44L691.70 625.49L692.70 625.55L693.70 625.60L694.70 625.65L695.70 625.70L696.70 625.75L697.70 625.80L698.70 625.85L699.70 625.90L700.70 625.95L701.70 626.00L702.70 626.04L703.70 626.09L704.70 626.13L705.70 626.18L706.70 626.22L707.70 626.26L708.70 626.30L709.70 626.34L710.70 626.38L711.70 626.42L712.70 626.46L713.70 626.50L714.70 626.54L715.70 626.58L716.70 626.62L717.70 626.65L718.70 626.69L719.70 626.72L720.70 626.76L721.70 626.79L722.70 626.83L723.70 626.86L724.70 626.89L725.70 626.92L726.70 626.96L727.70 626.99L728.70 627.02L729.70 627.05L730.70 627.08L731.70 627.11L732.70 627.14L733.70 627.16L734.70 627.19L735.70 627.22L736.70 627.25L737.70 627.27L738.70 627.30L739.70 627.33L740.70 627.35L741.70 627.38L742.70 627.40L743.70 627.43L744.70 627.45L745.70 627.47L746.70 627.50L747.70 627.52L748.70 627.54L749.70 627.57L750.70 627.59L751.70 627.61L752.70 627.63L753.70 627.65L754.70 627.67L755.70 627.69L756.70 627.71L757.70 627.73L758.70 627.75L759.70 627.77L760.70 627.79L761.70 627.81L762.70 627.82L763.70 627.84" stroke="#D0002E" stroke-width="4.8" stroke-dasharray="11.5 5.2 3 5.2"/>
<path d="M172.70 629.75L173.70 629.77L174.70 629.78L175.70 629.79L176.70 629.80L177.70 629.82L178.70 629.83L179.70 629.84L180.70 629.86L181.70 629.87L182.70 629.88L183.70 629.90L184.70 629.91L185.70 629.93L186.70 629.94L187.70 629.96L188.70 629.97L189.70 629.99L190.70 630.00L191.70 630.02L192.70 630.04L193.70 630.05L194.70 630.07L195.70 630.09L196.70 630.10L197.70 630.12L198.70 630.14L199.70 630.16L200.70 630.18L201.70 630.20L202.70 630.21L203.70 630.23L204.70 630.25L205.70 630.27L206.70 630.29L207.70 630.31L208.70 630.34L209.70 630.36L210.70 630.38L211.70 630.40L212.70 630.42L213.70 630.45L214.70 630.47L215.70 630.49L216.70 630.52L217.70 630.54L218.70 630.57L219.70 630.59L220.70 630.62L221.70 630.64L222.70 630.67L223.70 630.69L224.70 630.72L225.70 630.75L226.70 630.78L227.70 630.81L228.70 630.83L229.70 630.86L230.70 630.89L231.70 630.92L232.70 630.95L233.70 630.99L234.70 631.02L235.70 631.05L236.70 631.08L237.70 631.12L238.70 631.15L239.70 631.18L240.70 631.22L241.70 631.26L242.70 631.29L243.70 631.33L244.70 631.37L245.70 631.40L246.70 631.44L247.70 631.48L248.70 631.52L249.70 631.56L250.70 631.60L251.70 631.64L252.70 631.69L253.70 631.73L254.70 631.77L255.70 631.82L256.70 631.86L257.70 631.91L258.70 631.96L259.70 632.00L260.70 632.05L261.70 632.10L262.70 632.15L263.70 632.20L264.70 632.25L265.70 632.31L266.70 632.36L267.70 632.41L268.70 632.47L269.70 632.52L270.70 632.58L271.70 632.64L272.70 632.70L273.70 632.76L274.70 632.82L275.70 632.88L276.70 632.94L277.70 633.00L278.70 633.07L279.70 633.13L280.70 633.20L281.70 633.27L282.70 633.34L283.70 633.41L284.70 633.48L285.70 633.55L286.70 633.62L287.70 633.70L288.70 633.78L289.70 633.85L290.70 633.93L291.70 634.01L292.70 634.09L293.70 634.17L294.70 634.26L295.70 634.34L296.70 634.43L297.70 634.52L298.70 634.61L299.70 634.70L300.70 634.79L301.70 634.89L302.70 634.98L303.70 635.08L304.70 635.18L305.70 635.28L306.70 635.38L307.70 635.49L308.70 635.59L309.70 635.70L310.70 635.81L311.70 635.92L312.70 636.03L313.70 636.15L314.70 636.26L315.70 636.38L316.70 636.50L317.70 636.63L318.70 636.75L319.70 636.88L320.70 637.01L321.70 637.14L322.70 637.27L323.70 637.41L324.70 637.55L325.70 637.69L326.70 637.83L327.70 637.98L328.70 638.13L329.70 638.28L330.70 638.43L331.70 638.59L332.70 638.75L333.70 638.91L334.70 639.07L335.70 639.24L336.70 639.41L337.70 639.58L338.70 639.76L339.70 639.94L340.70 640.12L341.70 640.31L342.70 640.50L343.70 640.69L344.70 640.89L345.70 641.09L346.70 641.29L347.70 641.50L348.70 641.71L349.70 641.92L350.70 642.14L351.70 642.36L352.70 642.59L353.70 642.82L354.70 643.05L355.70 643.29L356.70 643.53L357.70 643.78L358.70 644.03L359.70 644.29L360.70 644.55L361.70 644.82L362.70 645.09L363.70 645.37L364.70 645.65L365.70 645.94L366.70 646.23L367.70 646.53L368.70 646.83L369.70 647.14L370.70 647.46L371.70 647.78L372.70 648.11L373.70 648.44L374.70 648.79L375.70 649.13L376.70 649.49L377.70 649.85L378.70 650.22L379.70 650.60L380.70 650.98L381.70 651.37L382.70 651.77L383.70 652.18L384.70 652.59L385.70 653.02L386.70 653.45L387.70 653.89L388.70 654.34L389.70 654.80L390.70 655.27L391.70 655.75L392.70 656.24L393.70 656.74L394.70 657.25L395.70 657.77L396.70 658.30L397.70 658.84L398.70 659.40L399.70 659.96L400.70 660.54L401.70 661.13L402.70 661.73L403.70 662.35L404.70 662.98L405.70 663.62L406.70 664.28L407.70 664.95L408.70 665.64L409.70 666.34L410.70 667.06L411.70 667.79L412.70 668.54L413.70 669.31L414.70 670.09L415.70 670.89L416.70 671.71L417.70 672.54L418.70 673.39L419.70 674.27L420.70 675.16L421.70 676.07L422.70 677.00L423.70 677.95L424.70 678.92L425.70 679.92L426.70 680.93L427.70 681.96L428.70 683.02L429.70 684.10L430.70 685.20L431.70 686.33L432.70 687.47L433.70 688.64L434.70 689.83L435.70 691.04L436.70 692.28L437.70 693.54L438.70 694.82L439.70 696.12L440.70 697.44L441.70 698.78L442.70 700.15L443.70 701.53L444.70 702.93L445.70 704.34L446.70 705.77L447.70 707.22L448.70 708.67L449.70 710.14L450.70 711.61L451.70 713.09L452.70 714.58L453.70 716.06L454.70 717.53L455.70 719.01L456.70 720.47L457.70 721.91L458.70 723.34L459.70 724.74L460.70 726.12L461.70 727.46L462.70 728.77L463.70 730.03L464.70 731.24L465.70 732.40L466.70 733.50L467.70 734.54L468.70 735.50L469.70 736.40L470.70 737.21L471.70 737.94L472.70 738.58L473.70 739.13L474.70 739.58L475.70 739.94L476.70 740.19L477.70 740.35L478.70 740.40L479.70 740.35L480.70 740.18L481.70 739.92L482.70 739.54L483.70 739.07L484.70 738.49L485.70 737.82L486.70 737.06L487.70 736.22L488.70 735.29L489.70 734.28L490.70 733.20L491.70 732.06L492.70 730.86L493.70 729.61L494.70 728.30L495.70 726.96L496.70 725.58L497.70 724.17L498.70 722.73L499.70 721.27L500.70 719.80L501.70 718.31L502.70 716.81L503.70 715.31L504.70 713.81L505.70 712.31L506.70 710.82L507.70 709.33L508.70 707.86L509.70 706.39L510.70 704.94L511.70 703.51L512.70 702.10L513.70 700.70L514.70 699.32L515.70 697.96L516.70 696.63L517.70 695.31L518.70 694.02L519.70 692.75L520.70 691.51L521.70 690.28L522.70 689.08L523.70 687.91L524.70 686.76L525.70 685.63L526.70 684.52L527.70 683.44L528.70 682.38L529.70 681.34L530.70 680.32L531.70 679.32L532.70 678.35L533.70 677.40L534.70 676.47L535.70 675.55L536.70 674.66L537.70 673.79L538.70 672.94L539.70 672.10L540.70 671.28L541.70 670.49L542.70 669.70L543.70 668.94L544.70 668.19L545.70 667.46L546.70 666.75L547.70 666.05L548.70 665.36L549.70 664.69L550.70 664.04L551.70 663.39L552.70 662.77L553.70 662.15L554.70 661.55L555.70 660.96L556.70 660.39L557.70 659.82L558.70 659.27L559.70 658.73L560.70 658.20L561.70 657.68L562.70 657.17L563.70 656.67L564.70 656.19L565.70 655.71L566.70 655.24L567.70 654.78L568.70 654.33L569.70 653.89L570.70 653.46L571.70 653.04L572.70 652.62L573.70 652.22L574.70 651.82L575.70 651.43L576.70 651.05L577.70 650.67L578.70 650.30L579.70 649.94L580.70 649.59L581.70 649.24L582.70 648.90L583.70 648.56L584.70 648.23L585.70 647.91L586.70 647.60L587.70 647.29L588.70 646.98L589.70 646.68L590.70 646.39L591.70 646.10L592.70 645.82L593.70 645.54L594.70 645.27L595.70 645.00L596.70 644.74L597.70 644.48L598.70 644.23L599.70 643.98L600.70 643.74L601.70 643.50L602.70 643.26L603.70 643.03L604.70 642.80L605.70 642.58L606.70 642.36L607.70 642.14L608.70 641.93L609.70 641.72L610.70 641.52L611.70 641.32L612.70 641.12L613.70 640.92L614.70 640.73L615.70 640.55L616.70 640.36L617.70 640.18L618.70 640.00L619.70 639.83L620.70 639.65L621.70 639.48L622.70 639.32L623.70 639.15L624.70 638.99L625.70 638.84L626.70 638.68L627.70 638.53L628.70 638.38L629.70 638.23L630.70 638.08L631.70 637.94L632.70 637.80L633.70 637.66L634.70 637.52L635.70 637.39L636.70 637.26L637.70 637.13L638.70 637.00L639.70 636.88L640.70 636.75L641.70 636.63L642.70 636.51L643.70 636.40L644.70 636.28L645.70 636.17L646.70 636.05L647.70 635.94L648.70 635.84L649.70 635.73L650.70 635.63L651.70 635.52L652.70 635.42L653.70 635.32L654.70 635.22L655.70 635.13L656.70 635.03L657.70 634.94L658.70 634.85L659.70 634.75L660.70 634.67L661.70 634.58L662.70 634.49L663.70 634.41L664.70 634.32L665.70 634.24L666.70 634.16L667.70 634.08L668.70 634.00L669.70 633.92L670.70 633.85L671.70 633.77L672.70 633.70L673.70 633.63L674.70 633.56L675.70 633.49L676.70 633.42L677.70 633.35L678.70 633.28L679.70 633.22L680.70 633.15L681.70 633.09L682.70 633.02L683.70 632.96L684.70 632.90L685.70 632.84L686.70 632.78L687.70 632.72L688.70 632.67L689.70 632.61L690.70 632.56L691.70 632.50L692.70 632.45L693.70 632.39L694.70 632.34L695.70 632.29L696.70 632.24L697.70 632.19L698.70 632.14L699.70 632.09L700.70 632.05L701.70 632.00L702.70 631.95L703.70 631.91L704.70 631.86L705.70 631.82L706.70 631.78L707.70 631.73L708.70 631.69L709.70 631.65L710.70 631.61L711.70 631.57L712.70 631.53L713.70 631.49L714.70 631.45L715.70 631.42L716.70 631.38L717.70 631.34L718.70 631.31L719.70 631.27L720.70 631.24L721.70 631.20L722.70 631.17L723.70 631.14L724.70 631.10L725.70 631.07L726.70 631.04L727.70 631.01L728.70 630.98L729.70 630.95L730.70 630.92L731.70 630.89L732.70 630.86L733.70 630.83L734.70 630.80L735.70 630.78L736.70 630.75L737.70 630.72L738.70 630.70L739.70 630.67L740.70 630.64L741.70 630.62L742.70 630.60L743.70 630.57L744.70 630.55L745.70 630.52L746.70 630.50L747.70 630.48L748.70 630.45L749.70 630.43L750.70 630.41L751.70 630.39L752.70 630.37L753.70 630.35L754.70 630.33L755.70 630.31L756.70 630.29L757.70 630.27L758.70 630.25L759.70 630.23L760.70 630.21L761.70 630.19L762.70 630.17L763.70 630.16" stroke="#D0002E" stroke-width="4.8" stroke-dasharray="11.5 5.2 3 5.2"/>
<path d="M172.70 624.92L173.70 624.86L174.70 624.80L175.70 624.74L176.70 624.67L177.70 624.61L178.70 624.55L179.70 624.48L180.70 624.41L181.70 624.35L182.70 624.28L183.70 624.21L184.70 624.14L185.70 624.07L186.70 623.99L187.70 623.92L188.70 623.85L189.70 623.77L190.70 623.69L191.70 623.61L192.70 623.53L193.70 623.45L194.70 623.37L195.70 623.29L196.70 623.20L197.70 623.12L198.70 623.03L199.70 622.94L200.70 622.85L201.70 622.76L202.70 622.67L203.70 622.58L204.70 622.48L205.70 622.39L206.70 622.29L207.70 622.19L208.70 622.09L209.70 621.98L210.70 621.88L211.70 621.77L212.70 621.67L213.70 621.56L214.70 621.45L215.70 621.34L216.70 621.22L217.70 621.11L218.70 620.99L219.70 620.87L220.70 620.75L221.70 620.62L222.70 620.50L223.70 620.37L224.70 620.24L225.70 620.11L226.70 619.98L227.70 619.84L228.70 619.71L229.70 619.57L230.70 619.42L231.70 619.28L232.70 619.13L233.70 618.99L234.70 618.83L235.70 618.68L236.70 618.53L237.70 618.37L238.70 618.21L239.70 618.04L240.70 617.88L241.70 617.71L242.70 617.54L243.70 617.36L244.70 617.19L245.70 617.01L246.70 616.82L247.70 616.64L248.70 616.45L249.70 616.26L250.70 616.06L251.70 615.86L252.70 615.66L253.70 615.46L254.70 615.25L255.70 615.04L256.70 614.82L257.70 614.60L258.70 614.38L259.70 614.16L260.70 613.93L261.70 613.69L262.70 613.45L263.70 613.21L264.70 612.97L265.70 612.72L266.70 612.46L267.70 612.20L268.70 611.94L269.70 611.67L270.70 611.40L271.70 611.12L272.70 610.84L273.70 610.55L274.70 610.26L275.70 609.96L276.70 609.66L277.70 609.35L278.70 609.04L279.70 608.72L280.70 608.40L281.70 608.06L282.70 607.73L283.70 607.39L284.70 607.04L285.70 606.68L286.70 606.32L287.70 605.95L288.70 605.57L289.70 605.19L290.70 604.80L291.70 604.40L292.70 604.00L293.70 603.59L294.70 603.17L295.70 602.74L296.70 602.30L297.70 601.85L298.70 601.40L299.70 600.94L300.70 600.47L301.70 599.99L302.70 599.49L303.70 598.99L304.70 598.48L305.70 597.96L306.70 597.43L307.70 596.89L308.70 596.34L309.70 595.77L310.70 595.20L311.70 594.61L312.70 594.01L313.70 593.40L314.70 592.78L315.70 592.14L316.70 591.49L317.70 590.83L318.70 590.15L319.70 589.46L320.70 588.75L321.70 588.03L322.70 587.29L323.70 586.54L324.70 585.77L325.70 584.99L326.70 584.18L327.70 583.37L328.70 582.53L329.70 581.68L330.70 580.81L331.70 579.92L332.70 579.01L333.70 578.08L334.70 577.14L335.70 576.17L336.70 575.19L337.70 574.18L338.70 573.16L339.70 572.11L340.70 571.04L341.70 569.96L342.70 568.85L343.70 567.72L344.70 566.57L345.70 565.40L346.70 564.21L347.70 563.00L348.70 561.77L349.70 560.53L350.70 559.26L351.70 557.97L352.70 556.67L353.70 555.35L354.70 554.02L355.70 552.67L356.70 551.31L357.70 549.95L358.70 548.57L359.70 547.18L360.70 545.80L361.70 544.41L362.70 543.02L363.70 541.64L364.70 540.26L365.70 538.90L366.70 537.55L367.70 536.22L368.70 534.92L369.70 533.64L370.70 532.40L371.70 531.20L372.70 530.03L373.70 528.92L374.70 527.86L375.70 526.86L376.70 525.92L377.70 525.05L378.70 524.26L379.70 523.54L380.70 522.91L381.70 522.36L382.70 521.90L383.70 521.53L384.70 521.26L385.70 521.08L386.70 521.00L387.70 521.02L388.70 521.13L389.70 521.34L390.70 521.63L391.70 522.02L392.70 522.49L393.70 523.05L394.70 523.69L395.70 524.41L396.70 525.20L397.70 526.07L398.70 527.00L399.70 528.00L400.70 529.06L401.70 530.17L402.70 531.33L403.70 532.54L404.70 533.78L405.70 535.07L406.70 536.38L407.70 537.73L408.70 539.10L409.70 540.48L410.70 541.89L411.70 543.30L412.70 544.73L413.70 546.16L414.70 547.60L415.70 549.03L416.70 550.46L417.70 551.89L418.70 553.31L419.70 554.72L420.70 556.12L421.70 557.51L422.70 558.89L423.70 560.25L424.70 561.59L425.70 562.92L426.70 564.22L427.70 565.51L428.70 566.78L429.70 568.03L430.70 569.26L431.70 570.47L432.70 571.66L433.70 572.83L434.70 573.97L435.70 575.10L436.70 576.20L437.70 577.28L438.70 578.34L439.70 579.38L440.70 580.40L441.70 581.39L442.70 582.37L443.70 583.33L444.70 584.26L445.70 585.18L446.70 586.08L447.70 586.96L448.70 587.82L449.70 588.66L450.70 589.48L451.70 590.28L452.70 591.07L453.70 591.84L454.70 592.60L455.70 593.33L456.70 594.05L457.70 594.76L458.70 595.45L459.70 596.12L460.70 596.78L461.70 597.43L462.70 598.06L463.70 598.68L464.70 599.28L465.70 599.87L466.70 600.45L467.70 601.02L468.70 601.57L469.70 602.11L470.70 602.64L471.70 603.16L472.70 603.67L473.70 604.16L474.70 604.65L475.70 605.12L476.70 605.59L477.70 606.04L478.70 606.49L479.70 606.92L480.70 607.35L481.70 607.77L482.70 608.18L483.70 608.58L484.70 608.97L485.70 609.35L486.70 609.73L487.70 610.10L488.70 610.46L489.70 610.81L490.70 611.16L491.70 611.50L492.70 611.83L493.70 612.15L494.70 612.47L495.70 612.78L496.70 613.09L497.70 613.39L498.70 613.68L499.70 613.97L500.70 614.25L501.70 614.53L502.70 614.80L503.70 615.06L504.70 615.32L505.70 615.58L506.70 615.83L507.70 616.07L508.70 616.31L509.70 616.54L510.70 616.78L511.70 617.00L512.70 617.22L513.70 617.44L514.70 617.65L515.70 617.86L516.70 618.07L517.70 618.27L518.70 618.46L519.70 618.66L520.70 618.85L521.70 619.03L522.70 619.21L523.70 619.39L524.70 619.57L525.70 619.74L526.70 619.91L527.70 620.07L528.70 620.24L529.70 620.40L530.70 620.55L531.70 620.71L532.70 620.86L533.70 621.00L534.70 621.15L535.70 621.29L536.70 621.43L537.70 621.57L538.70 621.70L539.70 621.83L540.70 621.96L541.70 622.09L542.70 622.21L543.70 622.33L544.70 622.45L545.70 622.57L546.70 622.69L547.70 622.80L548.70 622.91L549.70 623.02L550.70 623.13L551.70 623.23L552.70 623.34L553.70 623.44L554.70 623.54L555.70 623.64L556.70 623.73L557.70 623.83L558.70 623.92L559.70 624.01L560.70 624.10L561.70 624.19L562.70 624.27L563.70 624.36L564.70 624.44L565.70 624.52L566.70 624.60L567.70 624.68L568.70 624.76L569.70 624.83L570.70 624.90L571.70 624.98L572.70 625.05L573.70 625.12L574.70 625.19L575.70 625.26L576.70 625.32L577.70 625.39L578.70 625.45L579.70 625.51L580.70 625.58L581.70 625.64L582.70 625.70L583.70 625.76L584.70 625.81L585.70 625.87L586.70 625.92L587.70 625.98L588.70 626.03L589.70 626.09L590.70 626.14L591.70 626.19L592.70 626.24L593.70 626.29L594.70 626.33L595.70 626.38L596.70 626.43L597.70 626.47L598.70 626.52L599.70 626.56L600.70 626.60L601.70 626.65L602.70 626.69L603.70 626.73L604.70 626.77L605.70 626.81L606.70 626.85L607.70 626.89L608.70 626.92L609.70 626.96L610.70 627.00L611.70 627.03L612.70 627.07L613.70 627.10L614.70 627.13L615.70 627.17L616.70 627.20L617.70 627.23L618.70 627.26L619.70 627.29L620.70 627.32L621.70 627.35L622.70 627.38L623.70 627.41L624.70 627.44L625.70 627.46L626.70 627.49L627.70 627.52L628.70 627.54L629.70 627.57L630.70 627.59L631.70 627.62L632.70 627.64L633.70 627.67L634.70 627.69L635.70 627.71L636.70 627.74L637.70 627.76L638.70 627.78L639.70 627.80L640.70 627.82L641.70 627.84L642.70 627.86L643.70 627.88L644.70 627.90L645.70 627.92L646.70 627.94L647.70 627.96L648.70 627.98L649.70 628.00L650.70 628.01L651.70 628.03L652.70 628.05L653.70 628.07L654.70 628.08L655.70 628.10L656.70 628.11L657.70 628.13L658.70 628.14L659.70 628.16L660.70 628.17L661.70 628.19L662.70 628.20L663.70 628.22L664.70 628.23L665.70 628.24L666.70 628.26L667.70 628.27L668.70 628.28L669.70 628.30L670.70 628.31L671.70 628.32L672.70 628.33L673.70 628.34L674.70 628.36L675.70 628.37L676.70 628.38L677.70 628.39L678.70 628.40L679.70 628.41L680.70 628.42L681.70 628.43L682.70 628.44L683.70 628.45L684.70 628.46L685.70 628.47L686.70 628.48L687.70 628.49L688.70 628.50L689.70 628.51L690.70 628.51L691.70 628.52L692.70 628.53L693.70 628.54L694.70 628.55L695.70 628.56L696.70 628.56L697.70 628.57L698.70 628.58L699.70 628.59L700.70 628.59L701.70 628.60L702.70 628.61L703.70 628.61L704.70 628.62L705.70 628.63L706.70 628.63L707.70 628.64L708.70 628.65L709.70 628.65L710.70 628.66L711.70 628.67L712.70 628.67L713.70 628.68L714.70 628.68L715.70 628.69L716.70 628.69L717.70 628.70L718.70 628.70L719.70 628.71L720.70 628.71L721.70 628.72L722.70 628.72L723.70 628.73L724.70 628.73L725.70 628.74L726.70 628.74L727.70 628.75L728.70 628.75L729.70 628.76L730.70 628.76L731.70 628.77L732.70 628.77L733.70 628.77L734.70 628.78L735.70 628.78L736.70 628.79L737.70 628.79L738.70 628.79L739.70 628.80L740.70 628.80L741.70 628.80L742.70 628.81L743.70 628.81L744.70 628.81L745.70 628.82L746.70 628.82L747.70 628.82L748.70 628.83L749.70 628.83L750.70 628.83L751.70 628.84L752.70 628.84L753.70 628.84L754.70 628.84L755.70 628.85L756.70 628.85L757.70 628.85L758.70 628.85L759.70 628.86L760.70 628.86L761.70 628.86L762.70 628.86L763.70 628.87" stroke="#F8952D" stroke-width="4.9"/>
<path d="M172.70 633.08L173.70 633.14L174.70 633.20L175.70 633.26L176.70 633.33L177.70 633.39L178.70 633.45L179.70 633.52L180.70 633.59L181.70 633.65L182.70 633.72L183.70 633.79L184.70 633.86L185.70 633.93L186.70 634.01L187.70 634.08L188.70 634.15L189.70 634.23L190.70 634.31L191.70 634.39L192.70 634.47L193.70 634.55L194.70 634.63L195.70 634.71L196.70 634.80L197.70 634.88L198.70 634.97L199.70 635.06L200.70 635.15L201.70 635.24L202.70 635.33L203.70 635.42L204.70 635.52L205.70 635.61L206.70 635.71L207.70 635.81L208.70 635.91L209.70 636.02L210.70 636.12L211.70 636.23L212.70 636.33L213.70 636.44L214.70 636.55L215.70 636.66L216.70 636.78L217.70 636.89L218.70 637.01L219.70 637.13L220.70 637.25L221.70 637.38L222.70 637.50L223.70 637.63L224.70 637.76L225.70 637.89L226.70 638.02L227.70 638.16L228.70 638.29L229.70 638.43L230.70 638.58L231.70 638.72L232.70 638.87L233.70 639.01L234.70 639.17L235.70 639.32L236.70 639.47L237.70 639.63L238.70 639.79L239.70 639.96L240.70 640.12L241.70 640.29L242.70 640.46L243.70 640.64L244.70 640.81L245.70 640.99L246.70 641.18L247.70 641.36L248.70 641.55L249.70 641.74L250.70 641.94L251.70 642.14L252.70 642.34L253.70 642.54L254.70 642.75L255.70 642.96L256.70 643.18L257.70 643.40L258.70 643.62L259.70 643.84L260.70 644.07L261.70 644.31L262.70 644.55L263.70 644.79L264.70 645.03L265.70 645.28L266.70 645.54L267.70 645.80L268.70 646.06L269.70 646.33L270.70 646.60L271.70 646.88L272.70 647.16L273.70 647.45L274.70 647.74L275.70 648.04L276.70 648.34L277.70 648.65L278.70 648.96L279.70 649.28L280.70 649.60L281.70 649.94L282.70 650.27L283.70 650.61L284.70 650.96L285.70 651.32L286.70 651.68L287.70 652.05L288.70 652.43L289.70 652.81L290.70 653.20L291.70 653.60L292.70 654.00L293.70 654.41L294.70 654.83L295.70 655.26L296.70 655.70L297.70 656.15L298.70 656.60L299.70 657.06L300.70 657.53L301.70 658.01L302.70 658.51L303.70 659.01L304.70 659.52L305.70 660.04L306.70 660.57L307.70 661.11L308.70 661.66L309.70 662.23L310.70 662.80L311.70 663.39L312.70 663.99L313.70 664.60L314.70 665.22L315.70 665.86L316.70 666.51L317.70 667.17L318.70 667.85L319.70 668.54L320.70 669.25L321.70 669.97L322.70 670.71L323.70 671.46L324.70 672.23L325.70 673.01L326.70 673.82L327.70 674.63L328.70 675.47L329.70 676.32L330.70 677.19L331.70 678.08L332.70 678.99L333.70 679.92L334.70 680.86L335.70 681.83L336.70 682.81L337.70 683.82L338.70 684.84L339.70 685.89L340.70 686.96L341.70 688.04L342.70 689.15L343.70 690.28L344.70 691.43L345.70 692.60L346.70 693.79L347.70 695.00L348.70 696.23L349.70 697.47L350.70 698.74L351.70 700.03L352.70 701.33L353.70 702.65L354.70 703.98L355.70 705.33L356.70 706.69L357.70 708.05L358.70 709.43L359.70 710.82L360.70 712.20L361.70 713.59L362.70 714.98L363.70 716.36L364.70 717.74L365.70 719.10L366.70 720.45L367.70 721.78L368.70 723.08L369.70 724.36L370.70 725.60L371.70 726.80L372.70 727.97L373.70 729.08L374.70 730.14L375.70 731.14L376.70 732.08L377.70 732.95L378.70 733.74L379.70 734.46L380.70 735.09L381.70 735.64L382.70 736.10L383.70 736.47L384.70 736.74L385.70 736.92L386.70 737.00L387.70 736.98L388.70 736.87L389.70 736.66L390.70 736.37L391.70 735.98L392.70 735.51L393.70 734.95L394.70 734.31L395.70 733.59L396.70 732.80L397.70 731.93L398.70 731.00L399.70 730.00L400.70 728.94L401.70 727.83L402.70 726.67L403.70 725.46L404.70 724.22L405.70 722.93L406.70 721.62L407.70 720.27L408.70 718.90L409.70 717.52L410.70 716.11L411.70 714.70L412.70 713.27L413.70 711.84L414.70 710.40L415.70 708.97L416.70 707.54L417.70 706.11L418.70 704.69L419.70 703.28L420.70 701.88L421.70 700.49L422.70 699.11L423.70 697.75L424.70 696.41L425.70 695.08L426.70 693.78L427.70 692.49L428.70 691.22L429.70 689.97L430.70 688.74L431.70 687.53L432.70 686.34L433.70 685.17L434.70 684.03L435.70 682.90L436.70 681.80L437.70 680.72L438.70 679.66L439.70 678.62L440.70 677.60L441.70 676.61L442.70 675.63L443.70 674.67L444.70 673.74L445.70 672.82L446.70 671.92L447.70 671.04L448.70 670.18L449.70 669.34L450.70 668.52L451.70 667.72L452.70 666.93L453.70 666.16L454.70 665.40L455.70 664.67L456.70 663.95L457.70 663.24L458.70 662.55L459.70 661.88L460.70 661.22L461.70 660.57L462.70 659.94L463.70 659.32L464.70 658.72L465.70 658.13L466.70 657.55L467.70 656.98L468.70 656.43L469.70 655.89L470.70 655.36L471.70 654.84L472.70 654.33L473.70 653.84L474.70 653.35L475.70 652.88L476.70 652.41L477.70 651.96L478.70 651.51L479.70 651.08L480.70 650.65L481.70 650.23L482.70 649.82L483.70 649.42L484.70 649.03L485.70 648.65L486.70 648.27L487.70 647.90L488.70 647.54L489.70 647.19L490.70 646.84L491.70 646.50L492.70 646.17L493.70 645.85L494.70 645.53L495.70 645.22L496.70 644.91L497.70 644.61L498.70 644.32L499.70 644.03L500.70 643.75L501.70 643.47L502.70 643.20L503.70 642.94L504.70 642.68L505.70 642.42L506.70 642.17L507.70 641.93L508.70 641.69L509.70 641.46L510.70 641.22L511.70 641.00L512.70 640.78L513.70 640.56L514.70 640.35L515.70 640.14L516.70 639.93L517.70 639.73L518.70 639.54L519.70 639.34L520.70 639.15L521.70 638.97L522.70 638.79L523.70 638.61L524.70 638.43L525.70 638.26L526.70 638.09L527.70 637.93L528.70 637.76L529.70 637.60L530.70 637.45L531.70 637.29L532.70 637.14L533.70 637.00L534.70 636.85L535.70 636.71L536.70 636.57L537.70 636.43L538.70 636.30L539.70 636.17L540.70 636.04L541.70 635.91L542.70 635.79L543.70 635.67L544.70 635.55L545.70 635.43L546.70 635.31L547.70 635.20L548.70 635.09L549.70 634.98L550.70 634.87L551.70 634.77L552.70 634.66L553.70 634.56L554.70 634.46L555.70 634.36L556.70 634.27L557.70 634.17L558.70 634.08L559.70 633.99L560.70 633.90L561.70 633.81L562.70 633.73L563.70 633.64L564.70 633.56L565.70 633.48L566.70 633.40L567.70 633.32L568.70 633.24L569.70 633.17L570.70 633.10L571.70 633.02L572.70 632.95L573.70 632.88L574.70 632.81L575.70 632.74L576.70 632.68L577.70 632.61L578.70 632.55L579.70 632.49L580.70 632.42L581.70 632.36L582.70 632.30L583.70 632.24L584.70 632.19L585.70 632.13L586.70 632.08L587.70 632.02L588.70 631.97L589.70 631.91L590.70 631.86L591.70 631.81L592.70 631.76L593.70 631.71L594.70 631.67L595.70 631.62L596.70 631.57L597.70 631.53L598.70 631.48L599.70 631.44L600.70 631.40L601.70 631.35L602.70 631.31L603.70 631.27L604.70 631.23L605.70 631.19L606.70 631.15L607.70 631.11L608.70 631.08L609.70 631.04L610.70 631.00L611.70 630.97L612.70 630.93L613.70 630.90L614.70 630.87L615.70 630.83L616.70 630.80L617.70 630.77L618.70 630.74L619.70 630.71L620.70 630.68L621.70 630.65L622.70 630.62L623.70 630.59L624.70 630.56L625.70 630.54L626.70 630.51L627.70 630.48L628.70 630.46L629.70 630.43L630.70 630.41L631.70 630.38L632.70 630.36L633.70 630.33L634.70 630.31L635.70 630.29L636.70 630.26L637.70 630.24L638.70 630.22L639.70 630.20L640.70 630.18L641.70 630.16L642.70 630.14L643.70 630.12L644.70 630.10L645.70 630.08L646.70 630.06L647.70 630.04L648.70 630.02L649.70 630.00L650.70 629.99L651.70 629.97L652.70 629.95L653.70 629.93L654.70 629.92L655.70 629.90L656.70 629.89L657.70 629.87L658.70 629.86L659.70 629.84L660.70 629.83L661.70 629.81L662.70 629.80L663.70 629.78L664.70 629.77L665.70 629.76L666.70 629.74L667.70 629.73L668.70 629.72L669.70 629.70L670.70 629.69L671.70 629.68L672.70 629.67L673.70 629.66L674.70 629.64L675.70 629.63L676.70 629.62L677.70 629.61L678.70 629.60L679.70 629.59L680.70 629.58L681.70 629.57L682.70 629.56L683.70 629.55L684.70 629.54L685.70 629.53L686.70 629.52L687.70 629.51L688.70 629.50L689.70 629.49L690.70 629.49L691.70 629.48L692.70 629.47L693.70 629.46L694.70 629.45L695.70 629.44L696.70 629.44L697.70 629.43L698.70 629.42L699.70 629.41L700.70 629.41L701.70 629.40L702.70 629.39L703.70 629.39L704.70 629.38L705.70 629.37L706.70 629.37L707.70 629.36L708.70 629.35L709.70 629.35L710.70 629.34L711.70 629.33L712.70 629.33L713.70 629.32L714.70 629.32L715.70 629.31L716.70 629.31L717.70 629.30L718.70 629.30L719.70 629.29L720.70 629.29L721.70 629.28L722.70 629.28L723.70 629.27L724.70 629.27L725.70 629.26L726.70 629.26L727.70 629.25L728.70 629.25L729.70 629.24L730.70 629.24L731.70 629.23L732.70 629.23L733.70 629.23L734.70 629.22L735.70 629.22L736.70 629.21L737.70 629.21L738.70 629.21L739.70 629.20L740.70 629.20L741.70 629.20L742.70 629.19L743.70 629.19L744.70 629.19L745.70 629.18L746.70 629.18L747.70 629.18L748.70 629.17L749.70 629.17L750.70 629.17L751.70 629.16L752.70 629.16L753.70 629.16L754.70 629.16L755.70 629.15L756.70 629.15L757.70 629.15L758.70 629.15L759.70 629.14L760.70 629.14L761.70 629.14L762.70 629.14L763.70 629.13" stroke="#F8952D" stroke-width="4.9"/>
<path d="M172.70 627.36L173.70 627.33L174.70 627.31L175.70 627.28L176.70 627.25L177.70 627.22L178.70 627.20L179.70 627.17L180.70 627.14L181.70 627.11L182.70 627.08L183.70 627.05L184.70 627.02L185.70 626.99L186.70 626.96L187.70 626.92L188.70 626.89L189.70 626.86L190.70 626.82L191.70 626.79L192.70 626.75L193.70 626.72L194.70 626.68L195.70 626.65L196.70 626.61L197.70 626.57L198.70 626.53L199.70 626.49L200.70 626.45L201.70 626.41L202.70 626.37L203.70 626.33L204.70 626.29L205.70 626.25L206.70 626.20L207.70 626.16L208.70 626.11L209.70 626.07L210.70 626.02L211.70 625.97L212.70 625.93L213.70 625.88L214.70 625.83L215.70 625.78L216.70 625.73L217.70 625.68L218.70 625.62L219.70 625.57L220.70 625.52L221.70 625.46L222.70 625.40L223.70 625.35L224.70 625.29L225.70 625.23L226.70 625.17L227.70 625.11L228.70 625.05L229.70 624.98L230.70 624.92L231.70 624.86L232.70 624.79L233.70 624.72L234.70 624.66L235.70 624.59L236.70 624.52L237.70 624.44L238.70 624.37L239.70 624.30L240.70 624.22L241.70 624.15L242.70 624.07L243.70 623.99L244.70 623.91L245.70 623.83L246.70 623.75L247.70 623.66L248.70 623.58L249.70 623.49L250.70 623.40L251.70 623.32L252.70 623.22L253.70 623.13L254.70 623.04L255.70 622.94L256.70 622.85L257.70 622.75L258.70 622.65L259.70 622.54L260.70 622.44L261.70 622.34L262.70 622.23L263.70 622.12L264.70 622.01L265.70 621.90L266.70 621.78L267.70 621.67L268.70 621.55L269.70 621.43L270.70 621.31L271.70 621.18L272.70 621.05L273.70 620.93L274.70 620.80L275.70 620.66L276.70 620.53L277.70 620.39L278.70 620.25L279.70 620.11L280.70 619.96L281.70 619.82L282.70 619.67L283.70 619.52L284.70 619.36L285.70 619.20L286.70 619.04L287.70 618.88L288.70 618.72L289.70 618.55L290.70 618.38L291.70 618.20L292.70 618.02L293.70 617.84L294.70 617.66L295.70 617.47L296.70 617.28L297.70 617.09L298.70 616.89L299.70 616.69L300.70 616.49L301.70 616.28L302.70 616.07L303.70 615.85L304.70 615.64L305.70 615.41L306.70 615.19L307.70 614.96L308.70 614.72L309.70 614.48L310.70 614.24L311.70 613.99L312.70 613.74L313.70 613.48L314.70 613.22L315.70 612.95L316.70 612.68L317.70 612.40L318.70 612.12L319.70 611.83L320.70 611.54L321.70 611.24L322.70 610.94L323.70 610.63L324.70 610.32L325.70 609.99L326.70 609.67L327.70 609.33L328.70 608.99L329.70 608.65L330.70 608.29L331.70 607.93L332.70 607.56L333.70 607.19L334.70 606.81L335.70 606.42L336.70 606.02L337.70 605.61L338.70 605.20L339.70 604.78L340.70 604.35L341.70 603.91L342.70 603.46L343.70 603.00L344.70 602.54L345.70 602.06L346.70 601.58L347.70 601.08L348.70 600.57L349.70 600.06L350.70 599.53L351.70 598.99L352.70 598.44L353.70 597.88L354.70 597.31L355.70 596.72L356.70 596.12L357.70 595.51L358.70 594.89L359.70 594.25L360.70 593.60L361.70 592.93L362.70 592.25L363.70 591.56L364.70 590.85L365.70 590.12L366.70 589.38L367.70 588.62L368.70 587.85L369.70 587.05L370.70 586.24L371.70 585.42L372.70 584.57L373.70 583.71L374.70 582.83L375.70 581.93L376.70 581.00L377.70 580.06L378.70 579.10L379.70 578.12L380.70 577.12L381.70 576.09L382.70 575.05L383.70 573.98L384.70 572.89L385.70 571.77L386.70 570.64L387.70 569.48L388.70 568.30L389.70 567.10L390.70 565.88L391.70 564.63L392.70 563.36L393.70 562.07L394.70 560.76L395.70 559.43L396.70 558.08L397.70 556.70L398.70 555.31L399.70 553.91L400.70 552.48L401.70 551.05L402.70 549.60L403.70 548.14L404.70 546.67L405.70 545.19L406.70 543.71L407.70 542.23L408.70 540.75L409.70 539.28L410.70 537.82L411.70 536.37L412.70 534.93L413.70 533.52L414.70 532.13L415.70 530.78L416.70 529.46L417.70 528.18L418.70 526.95L419.70 525.77L420.70 524.65L421.70 523.59L422.70 522.60L423.70 521.68L424.70 520.84L425.70 520.08L426.70 519.41L427.70 518.83L428.70 518.35L429.70 517.96L430.70 517.67L431.70 517.49L432.70 517.40L433.70 517.42L434.70 517.54L435.70 517.75L436.70 518.05L437.70 518.44L438.70 518.93L439.70 519.50L440.70 520.15L441.70 520.89L442.70 521.70L443.70 522.59L444.70 523.54L445.70 524.56L446.70 525.64L447.70 526.77L448.70 527.96L449.70 529.19L450.70 530.46L451.70 531.76L452.70 533.10L453.70 534.47L454.70 535.86L455.70 537.26L456.70 538.69L457.70 540.12L458.70 541.57L459.70 543.02L460.70 544.47L461.70 545.92L462.70 547.37L463.70 548.81L464.70 550.25L465.70 551.67L466.70 553.09L467.70 554.49L468.70 555.88L469.70 557.25L470.70 558.61L471.70 559.94L472.70 561.26L473.70 562.57L474.70 563.85L475.70 565.11L476.70 566.35L477.70 567.57L478.70 568.77L479.70 569.94L480.70 571.10L481.70 572.23L482.70 573.35L483.70 574.44L484.70 575.51L485.70 576.56L486.70 577.59L487.70 578.60L488.70 579.59L489.70 580.56L490.70 581.51L491.70 582.43L492.70 583.34L493.70 584.23L494.70 585.11L495.70 585.96L496.70 586.80L497.70 587.61L498.70 588.42L499.70 589.20L500.70 589.97L501.70 590.72L502.70 591.45L503.70 592.17L504.70 592.88L505.70 593.57L506.70 594.24L507.70 594.90L508.70 595.55L509.70 596.18L510.70 596.80L511.70 597.41L512.70 598.00L513.70 598.59L514.70 599.15L515.70 599.71L516.70 600.26L517.70 600.79L518.70 601.32L519.70 601.83L520.70 602.33L521.70 602.82L522.70 603.31L523.70 603.78L524.70 604.24L525.70 604.69L526.70 605.14L527.70 605.57L528.70 606.00L529.70 606.42L530.70 606.83L531.70 607.23L532.70 607.62L533.70 608.01L534.70 608.38L535.70 608.75L536.70 609.12L537.70 609.47L538.70 609.82L539.70 610.16L540.70 610.50L541.70 610.83L542.70 611.15L543.70 611.47L544.70 611.78L545.70 612.08L546.70 612.38L547.70 612.67L548.70 612.96L549.70 613.24L550.70 613.52L551.70 613.79L552.70 614.06L553.70 614.32L554.70 614.58L555.70 614.83L556.70 615.07L557.70 615.32L558.70 615.55L559.70 615.79L560.70 616.02L561.70 616.24L562.70 616.46L563.70 616.68L564.70 616.89L565.70 617.10L566.70 617.31L567.70 617.51L568.70 617.70L569.70 617.90L570.70 618.09L571.70 618.28L572.70 618.46L573.70 618.64L574.70 618.82L575.70 618.99L576.70 619.16L577.70 619.33L578.70 619.49L579.70 619.66L580.70 619.82L581.70 619.97L582.70 620.13L583.70 620.28L584.70 620.42L585.70 620.57L586.70 620.71L587.70 620.85L588.70 620.99L589.70 621.13L590.70 621.26L591.70 621.39L592.70 621.52L593.70 621.64L594.70 621.77L595.70 621.89L596.70 622.01L597.70 622.13L598.70 622.24L599.70 622.36L600.70 622.47L601.70 622.58L602.70 622.69L603.70 622.79L604.70 622.90L605.70 623.00L606.70 623.10L607.70 623.20L608.70 623.30L609.70 623.39L610.70 623.49L611.70 623.58L612.70 623.67L613.70 623.76L614.70 623.85L615.70 623.93L616.70 624.02L617.70 624.10L618.70 624.18L619.70 624.26L620.70 624.34L621.70 624.42L622.70 624.49L623.70 624.57L624.70 624.64L625.70 624.72L626.70 624.79L627.70 624.86L628.70 624.93L629.70 624.99L630.70 625.06L631.70 625.13L632.70 625.19L633.70 625.25L634.70 625.32L635.70 625.38L636.70 625.44L637.70 625.50L638.70 625.56L639.70 625.61L640.70 625.67L641.70 625.72L642.70 625.78L643.70 625.83L644.70 625.88L645.70 625.94L646.70 625.99L647.70 626.04L648.70 626.09L649.70 626.13L650.70 626.18L651.70 626.23L652.70 626.27L653.70 626.32L654.70 626.36L655.70 626.41L656.70 626.45L657.70 626.49L658.70 626.53L659.70 626.57L660.70 626.61L661.70 626.65L662.70 626.69L663.70 626.73L664.70 626.77L665.70 626.81L666.70 626.84L667.70 626.88L668.70 626.91L669.70 626.95L670.70 626.98L671.70 627.01L672.70 627.05L673.70 627.08L674.70 627.11L675.70 627.14L676.70 627.17L677.70 627.20L678.70 627.23L679.70 627.26L680.70 627.29L681.70 627.32L682.70 627.35L683.70 627.37L684.70 627.40L685.70 627.43L686.70 627.45L687.70 627.48L688.70 627.50L689.70 627.53L690.70 627.55L691.70 627.58L692.70 627.60L693.70 627.62L694.70 627.65L695.70 627.67L696.70 627.69L697.70 627.71L698.70 627.73L699.70 627.75L700.70 627.77L701.70 627.80L702.70 627.81L703.70 627.83L704.70 627.85L705.70 627.87L706.70 627.89L707.70 627.91L708.70 627.93L709.70 627.95L710.70 627.96L711.70 627.98L712.70 628.00L713.70 628.01L714.70 628.03L715.70 628.05L716.70 628.06L717.70 628.08L718.70 628.09L719.70 628.11L720.70 628.12L721.70 628.14L722.70 628.15L723.70 628.16L724.70 628.18L725.70 628.19L726.70 628.20L727.70 628.22L728.70 628.23L729.70 628.24L730.70 628.26L731.70 628.27L732.70 628.28L733.70 628.29L734.70 628.30L735.70 628.32L736.70 628.33L737.70 628.34L738.70 628.35L739.70 628.36L740.70 628.37L741.70 628.38L742.70 628.39L743.70 628.40L744.70 628.41L745.70 628.42L746.70 628.43L747.70 628.44L748.70 628.45L749.70 628.46L750.70 628.47L751.70 628.47L752.70 628.48L753.70 628.49L754.70 628.50L755.70 628.51L756.70 628.52L757.70 628.52L758.70 628.53L759.70 628.54L760.70 628.55L761.70 628.56L762.70 628.56L763.70 628.57" stroke="#F66A08" stroke-width="4.8" stroke-dasharray="10.8 5.8"/>
<path d="M172.70 630.63L173.70 630.66L174.70 630.69L175.70 630.71L176.70 630.74L177.70 630.77L178.70 630.79L179.70 630.82L180.70 630.85L181.70 630.88L182.70 630.91L183.70 630.94L184.70 630.97L185.70 631.00L186.70 631.03L187.70 631.07L188.70 631.10L189.70 631.13L190.70 631.16L191.70 631.20L192.70 631.23L193.70 631.27L194.70 631.30L195.70 631.34L196.70 631.38L197.70 631.42L198.70 631.45L199.70 631.49L200.70 631.53L201.70 631.57L202.70 631.61L203.70 631.65L204.70 631.70L205.70 631.74L206.70 631.78L207.70 631.83L208.70 631.87L209.70 631.92L210.70 631.96L211.70 632.01L212.70 632.06L213.70 632.10L214.70 632.15L215.70 632.20L216.70 632.25L217.70 632.31L218.70 632.36L219.70 632.41L220.70 632.47L221.70 632.52L222.70 632.58L223.70 632.63L224.70 632.69L225.70 632.75L226.70 632.81L227.70 632.87L228.70 632.93L229.70 632.99L230.70 633.06L231.70 633.12L232.70 633.19L233.70 633.25L234.70 633.32L235.70 633.39L236.70 633.46L237.70 633.53L238.70 633.60L239.70 633.68L240.70 633.75L241.70 633.83L242.70 633.90L243.70 633.98L244.70 634.06L245.70 634.14L246.70 634.22L247.70 634.31L248.70 634.39L249.70 634.48L250.70 634.57L251.70 634.65L252.70 634.74L253.70 634.84L254.70 634.93L255.70 635.02L256.70 635.12L257.70 635.22L258.70 635.32L259.70 635.42L260.70 635.52L261.70 635.63L262.70 635.74L263.70 635.84L264.70 635.95L265.70 636.07L266.70 636.18L267.70 636.29L268.70 636.41L269.70 636.53L270.70 636.65L271.70 636.78L272.70 636.90L273.70 637.03L274.70 637.16L275.70 637.29L276.70 637.43L277.70 637.56L278.70 637.70L279.70 637.84L280.70 637.99L281.70 638.13L282.70 638.28L283.70 638.43L284.70 638.59L285.70 638.74L286.70 638.90L287.70 639.06L288.70 639.23L289.70 639.40L290.70 639.57L291.70 639.74L292.70 639.92L293.70 640.10L294.70 640.28L295.70 640.47L296.70 640.65L297.70 640.85L298.70 641.04L299.70 641.24L300.70 641.44L301.70 641.65L302.70 641.86L303.70 642.07L304.70 642.29L305.70 642.51L306.70 642.74L307.70 642.97L308.70 643.20L309.70 643.44L310.70 643.68L311.70 643.93L312.70 644.18L313.70 644.44L314.70 644.70L315.70 644.96L316.70 645.23L317.70 645.51L318.70 645.79L319.70 646.07L320.70 646.36L321.70 646.66L322.70 646.96L323.70 647.27L324.70 647.58L325.70 647.90L326.70 648.23L327.70 648.56L328.70 648.90L329.70 649.25L330.70 649.60L331.70 649.96L332.70 650.32L333.70 650.69L334.70 651.07L335.70 651.46L336.70 651.86L337.70 652.26L338.70 652.67L339.70 653.09L340.70 653.52L341.70 653.96L342.70 654.40L343.70 654.86L344.70 655.32L345.70 655.79L346.70 656.28L347.70 656.77L348.70 657.27L349.70 657.79L350.70 658.31L351.70 658.85L352.70 659.39L353.70 659.95L354.70 660.52L355.70 661.11L356.70 661.70L357.70 662.31L358.70 662.93L359.70 663.56L360.70 664.21L361.70 664.88L362.70 665.55L363.70 666.24L364.70 666.95L365.70 667.67L366.70 668.41L367.70 669.16L368.70 669.93L369.70 670.72L370.70 671.53L371.70 672.35L372.70 673.19L373.70 674.05L374.70 674.92L375.70 675.82L376.70 676.74L377.70 677.67L378.70 678.63L379.70 679.61L380.70 680.61L381.70 681.62L382.70 682.66L383.70 683.73L384.70 684.81L385.70 685.92L386.70 687.05L387.70 688.20L388.70 689.37L389.70 690.57L390.70 691.78L391.70 693.02L392.70 694.29L393.70 695.57L394.70 696.87L395.70 698.20L396.70 699.54L397.70 700.91L398.70 702.29L399.70 703.69L400.70 705.10L401.70 706.53L402.70 707.98L403.70 709.43L404.70 710.89L405.70 712.36L406.70 713.83L407.70 715.30L408.70 716.77L409.70 718.24L410.70 719.69L411.70 721.14L412.70 722.56L413.70 723.97L414.70 725.34L415.70 726.69L416.70 728.00L417.70 729.28L418.70 730.50L419.70 731.67L420.70 732.79L421.70 733.84L422.70 734.83L423.70 735.74L424.70 736.58L425.70 737.33L426.70 738.00L427.70 738.57L428.70 739.06L429.70 739.44L430.70 739.73L431.70 739.91L432.70 740.00L433.70 739.98L434.70 739.86L435.70 739.65L436.70 739.35L437.70 738.96L438.70 738.48L439.70 737.91L440.70 737.26L441.70 736.53L442.70 735.72L443.70 734.84L444.70 733.89L445.70 732.88L446.70 731.80L447.70 730.68L448.70 729.50L449.70 728.28L450.70 727.01L451.70 725.72L452.70 724.38L453.70 723.03L454.70 721.64L455.70 720.24L456.70 718.83L457.70 717.40L458.70 715.96L459.70 714.52L460.70 713.08L461.70 711.63L462.70 710.19L463.70 708.76L464.70 707.33L465.70 705.91L466.70 704.50L467.70 703.11L468.70 701.73L469.70 700.36L470.70 699.02L471.70 697.68L472.70 696.37L473.70 695.08L474.70 693.80L475.70 692.55L476.70 691.32L477.70 690.10L478.70 688.91L479.70 687.74L480.70 686.59L481.70 685.46L482.70 684.35L483.70 683.27L484.70 682.20L485.70 681.16L486.70 680.13L487.70 679.13L488.70 678.15L489.70 677.18L490.70 676.24L491.70 675.32L492.70 674.41L493.70 673.52L494.70 672.66L495.70 671.81L496.70 670.98L497.70 670.16L498.70 669.37L499.70 668.59L500.70 667.82L501.70 667.08L502.70 666.34L503.70 665.63L504.70 664.93L505.70 664.24L506.70 663.57L507.70 662.91L508.70 662.27L509.70 661.64L510.70 661.02L511.70 660.42L512.70 659.83L513.70 659.25L514.70 658.68L515.70 658.13L516.70 657.59L517.70 657.05L518.70 656.53L519.70 656.02L520.70 655.52L521.70 655.03L522.70 654.56L523.70 654.09L524.70 653.63L525.70 653.18L526.70 652.73L527.70 652.30L528.70 651.88L529.70 651.46L530.70 651.05L531.70 650.66L532.70 650.26L533.70 649.88L534.70 649.50L535.70 649.14L536.70 648.78L537.70 648.42L538.70 648.07L539.70 647.73L540.70 647.40L541.70 647.07L542.70 646.75L543.70 646.44L544.70 646.13L545.70 645.83L546.70 645.53L547.70 645.24L548.70 644.95L549.70 644.67L550.70 644.40L551.70 644.13L552.70 643.86L553.70 643.60L554.70 643.35L555.70 643.10L556.70 642.85L557.70 642.61L558.70 642.37L559.70 642.14L560.70 641.91L561.70 641.69L562.70 641.47L563.70 641.25L564.70 641.04L565.70 640.84L566.70 640.63L567.70 640.43L568.70 640.24L569.70 640.04L570.70 639.85L571.70 639.67L572.70 639.48L573.70 639.30L574.70 639.13L575.70 638.96L576.70 638.79L577.70 638.62L578.70 638.45L579.70 638.29L580.70 638.14L581.70 637.98L582.70 637.83L583.70 637.68L584.70 637.53L585.70 637.39L586.70 637.24L587.70 637.10L588.70 636.97L589.70 636.83L590.70 636.70L591.70 636.57L592.70 636.44L593.70 636.32L594.70 636.19L595.70 636.07L596.70 635.95L597.70 635.83L598.70 635.72L599.70 635.61L600.70 635.50L601.70 635.39L602.70 635.28L603.70 635.17L604.70 635.07L605.70 634.97L606.70 634.87L607.70 634.77L608.70 634.67L609.70 634.58L610.70 634.48L611.70 634.39L612.70 634.30L613.70 634.21L614.70 634.13L615.70 634.04L616.70 633.96L617.70 633.87L618.70 633.79L619.70 633.71L620.70 633.63L621.70 633.56L622.70 633.48L623.70 633.41L624.70 633.33L625.70 633.26L626.70 633.19L627.70 633.12L628.70 633.05L629.70 632.98L630.70 632.92L631.70 632.85L632.70 632.79L633.70 632.73L634.70 632.66L635.70 632.60L636.70 632.54L637.70 632.48L638.70 632.43L639.70 632.37L640.70 632.31L641.70 632.26L642.70 632.20L643.70 632.15L644.70 632.10L645.70 632.05L646.70 632.00L647.70 631.95L648.70 631.90L649.70 631.85L650.70 631.80L651.70 631.76L652.70 631.71L653.70 631.67L654.70 631.62L655.70 631.58L656.70 631.54L657.70 631.49L658.70 631.45L659.70 631.41L660.70 631.37L661.70 631.33L662.70 631.29L663.70 631.26L664.70 631.22L665.70 631.18L666.70 631.15L667.70 631.11L668.70 631.08L669.70 631.04L670.70 631.01L671.70 630.97L672.70 630.94L673.70 630.91L674.70 630.88L675.70 630.85L676.70 630.82L677.70 630.79L678.70 630.76L679.70 630.73L680.70 630.70L681.70 630.67L682.70 630.64L683.70 630.62L684.70 630.59L685.70 630.56L686.70 630.54L687.70 630.51L688.70 630.49L689.70 630.46L690.70 630.44L691.70 630.42L692.70 630.39L693.70 630.37L694.70 630.35L695.70 630.32L696.70 630.30L697.70 630.28L698.70 630.26L699.70 630.24L700.70 630.22L701.70 630.20L702.70 630.18L703.70 630.16L704.70 630.14L705.70 630.12L706.70 630.10L707.70 630.08L708.70 630.07L709.70 630.05L710.70 630.03L711.70 630.01L712.70 630.00L713.70 629.98L714.70 629.97L715.70 629.95L716.70 629.93L717.70 629.92L718.70 629.90L719.70 629.89L720.70 629.87L721.70 629.86L722.70 629.85L723.70 629.83L724.70 629.82L725.70 629.80L726.70 629.79L727.70 629.78L728.70 629.77L729.70 629.75L730.70 629.74L731.70 629.73L732.70 629.72L733.70 629.70L734.70 629.69L735.70 629.68L736.70 629.67L737.70 629.66L738.70 629.65L739.70 629.64L740.70 629.63L741.70 629.62L742.70 629.61L743.70 629.60L744.70 629.59L745.70 629.58L746.70 629.57L747.70 629.56L748.70 629.55L749.70 629.54L750.70 629.53L751.70 629.52L752.70 629.51L753.70 629.51L754.70 629.50L755.70 629.49L756.70 629.48L757.70 629.47L758.70 629.46L759.70 629.46L760.70 629.45L761.70 629.44L762.70 629.44L763.70 629.43" stroke="#F66A08" stroke-width="4.8" stroke-dasharray="10.8 5.8"/>
</g>
<g><text x="89.0" y="39.1" font-size="27" text-anchor="start" textLength="79.5" lengthAdjust="spacingAndGlyphs">20dBv</text>
<text x="170.6" y="116" font-size="27" text-anchor="end" >10</text>
<text x="170.8" y="193" font-size="27" text-anchor="end" >0</text>
<text x="170.4" y="270" font-size="27" text-anchor="end" >-10</text>
<text x="170.0" y="342.3" font-size="27" text-anchor="end" >-20</text>
<text x="172.6" y="365.5" font-size="27" text-anchor="middle" >20</text>
<text x="313.6" y="365.5" font-size="27" text-anchor="middle" >100</text>
<text x="497.8" y="365.5" font-size="27" text-anchor="middle" >1k</text>
<text x="703.0" y="365.5" font-size="27" text-anchor="middle" >10k</text>
<text x="773.0" y="365.5" font-size="27" text-anchor="middle" >20kHz</text>
<text x="89.0" y="487.20000000000005" font-size="27" text-anchor="start" textLength="79.5" lengthAdjust="spacingAndGlyphs">20dBv</text>
<text x="170.6" y="564.1" font-size="27" text-anchor="end" >10</text>
<text x="170.8" y="641.1" font-size="27" text-anchor="end" >0</text>
<text x="170.4" y="718.1" font-size="27" text-anchor="end" >-10</text>
<text x="170.0" y="790.4000000000001" font-size="27" text-anchor="end" >-20</text>
<text x="172.6" y="813.6" font-size="27" text-anchor="middle" >20</text>
<text x="313.6" y="813.6" font-size="27" text-anchor="middle" >100</text>
<text x="497.8" y="813.6" font-size="27" text-anchor="middle" >1k</text>
<text x="703.0" y="813.6" font-size="27" text-anchor="middle" >10k</text>
<text x="773.0" y="813.6" font-size="27" text-anchor="middle" >20kHz</text>
<text x="222.5" y="407.8" font-size="27" text-anchor="start" textLength="193.5" lengthAdjust="spacingAndGlyphs">BASS Boost/Cut</text>
<text x="495.0" y="408.0" font-size="27" text-anchor="start" textLength="224.5" lengthAdjust="spacingAndGlyphs">TREBLE Boost/Cut</text>
<text x="376.3" y="842.2" font-size="27" text-anchor="start" textLength="173.5" lengthAdjust="spacingAndGlyphs">MID Boost/Cut</text>
<text x="221.0" y="876.4" font-size="27" text-anchor="start" textLength="75" lengthAdjust="spacingAndGlyphs">250Hz</text>
<text x="401.5" y="876.6" font-size="27" text-anchor="start" textLength="75.5" lengthAdjust="spacingAndGlyphs">450Hz</text>
<text x="572.0" y="875.6" font-size="27" text-anchor="start" textLength="76" lengthAdjust="spacingAndGlyphs">700Hz</text></g>
<line x1="167.6" y1="397" x2="211.4" y2="397" stroke="#E40014" stroke-width="6"/>
<line x1="441.9" y1="397" x2="485.7" y2="397" stroke="#1C1E87" stroke-width="6" stroke-dasharray="10.7 5.7"/>
<line x1="167.8" y1="865.8" x2="211.6" y2="865.8" stroke="#F8952D" stroke-width="6"/>
<line x1="347.5" y1="865.6" x2="391.3" y2="865.6" stroke="#F66A08" stroke-width="6" stroke-dasharray="10.5 6.2"/>
<line x1="518.3" y1="865.6" x2="562.5" y2="865.6" stroke="#CC0010" stroke-width="6" stroke-dasharray="11.4 5.3 2.8 5.2"/>
</svg></body></html>
